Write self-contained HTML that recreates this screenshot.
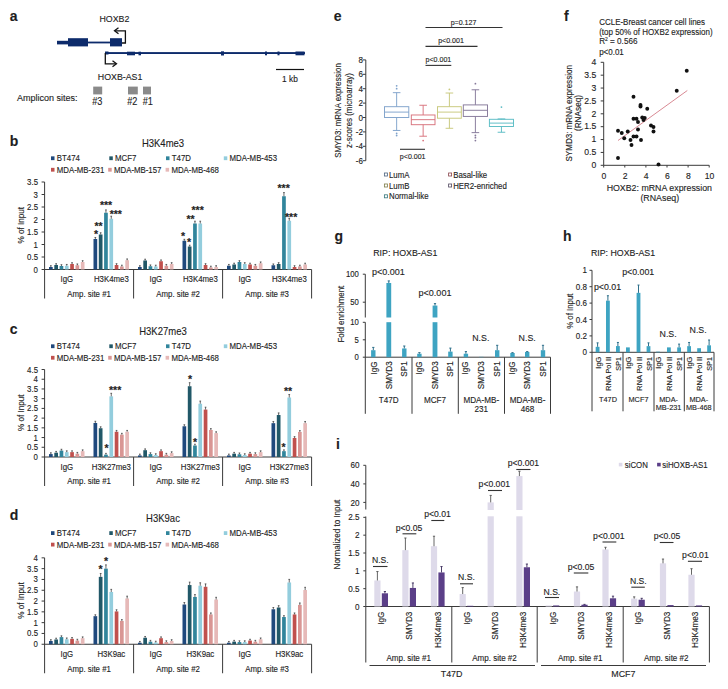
<!DOCTYPE html>
<html><head><meta charset="utf-8"><style>
html,body{margin:0;padding:0;background:#fff;}
svg{display:block;font-family:"Liberation Sans",sans-serif;}
text{stroke:#1e1e1e;stroke-width:0.12px;}
</style></head><body>
<svg width="728" height="689" viewBox="0 0 728 689">
<rect width="728" height="689" fill="#fff"/>
<text x="9.8" y="21" font-size="14" text-anchor="start" font-weight="bold" fill="#1e1e1e" transform="matrix(1 0 0 1.0 0 0)">a</text>
<rect x="57" y="40.8" width="11" height="3.6" fill="#0d2b6b"/>
<rect x="68" y="38.2" width="20" height="8.2" fill="#0d2b6b"/>
<rect x="88" y="41.6" width="22" height="1.8" fill="#0d2b6b"/>
<rect x="110" y="38.2" width="12" height="8.2" fill="#0d2b6b"/>
<polyline points="122,43 125.4,43 125.4,30.8 115,30.8" stroke="#111" stroke-width="1.3" fill="none"/>
<polyline points="118.5,27.8 114.5,30.8 118.5,33.8" stroke="#111" stroke-width="1.3" fill="none"/>
<text x="99.5" y="22.1" font-size="8.82" text-anchor="start" fill="#1e1e1e" transform="matrix(1 0 0 1.1 0 -1.9)">HOXB2</text>
<rect x="105" y="52.1" width="200" height="1.9" fill="#0d2b6b"/>
<rect x="105" y="51.5" width="3.5" height="3" fill="#0d2b6b"/>
<rect x="127" y="51.7" width="8" height="3.6" fill="#0d2b6b"/>
<rect x="138.5" y="51.7" width="2.5" height="3.6" fill="#0d2b6b"/>
<rect x="221" y="51.3" width="3" height="4.2" fill="#0d2b6b"/>
<rect x="265" y="51.5" width="2" height="3.8" fill="#0d2b6b"/>
<rect x="277.5" y="51.5" width="2" height="3.8" fill="#0d2b6b"/>
<rect x="295.5" y="51.5" width="9" height="3.8" fill="#0d2b6b"/>
<polyline points="105.3,53 105.3,63.8 116,63.8" stroke="#111" stroke-width="1.3" fill="none"/>
<polyline points="112.5,60.8 116.5,63.8 112.5,66.8" stroke="#111" stroke-width="1.3" fill="none"/>
<text x="97.8" y="79.7" font-size="8.82" text-anchor="start" fill="#1e1e1e" transform="matrix(1 0 0 1.1 0 -7.66)">HOXB-AS1</text>
<line x1="276" y1="69.5" x2="304" y2="69.5" stroke="#111" stroke-width="1.2"/>
<text x="290" y="81.92" font-size="8.33" text-anchor="middle" fill="#1e1e1e" transform="matrix(1 0 0 1.1 0 -7.9)">1 kb</text>
<text x="16.9" y="100.76" font-size="9.02" text-anchor="start" fill="#1e1e1e" transform="matrix(1 0 0 1.1 0 -9.76)">Amplicon sites:</text>
<rect x="93.2" y="86.6" width="9" height="7.8" fill="#8a8a8a"/>
<rect x="128" y="86.6" width="9.8" height="7.8" fill="#8a8a8a"/>
<rect x="143" y="86.6" width="8" height="7.8" fill="#8a8a8a"/>
<text x="97.2" y="105.1" font-size="9.11" text-anchor="middle" fill="#1e1e1e" transform="matrix(1 0 0 1.1 0 -10.19)">#3</text>
<text x="132.3" y="105.1" font-size="9.11" text-anchor="middle" fill="#1e1e1e" transform="matrix(1 0 0 1.1 0 -10.19)">#2</text>
<text x="147.8" y="105.1" font-size="9.11" text-anchor="middle" fill="#1e1e1e" transform="matrix(1 0 0 1.1 0 -10.19)">#1</text>
<text x="9.8" y="145.55" font-size="14" text-anchor="start" font-weight="bold" fill="#1e1e1e" transform="matrix(1 0 0 1.0 0 0)">b</text>
<text x="163" y="146.59" font-size="9.51" text-anchor="middle" fill="#1e1e1e" transform="matrix(1 0 0 1.1 0 -14.33)">H3K4me3</text>
<rect x="51" y="156.35" width="3.5" height="3.8" fill="#1f497d"/>
<text x="56.8" y="161" font-size="7.84" text-anchor="start" fill="#1e1e1e" transform="matrix(1 0 0 1.1 0 -15.83)">BT474</text>
<rect x="109.3" y="156.35" width="3.5" height="3.8" fill="#215868"/>
<text x="115.1" y="161" font-size="7.84" text-anchor="start" fill="#1e1e1e" transform="matrix(1 0 0 1.1 0 -15.83)">MCF7</text>
<rect x="166" y="156.35" width="3.5" height="3.8" fill="#31859c"/>
<text x="171.8" y="161" font-size="7.84" text-anchor="start" fill="#1e1e1e" transform="matrix(1 0 0 1.1 0 -15.83)">T47D</text>
<rect x="223.8" y="156.35" width="3.5" height="3.8" fill="#93cddd"/>
<text x="229.6" y="161" font-size="7.84" text-anchor="start" fill="#1e1e1e" transform="matrix(1 0 0 1.1 0 -15.83)">MDA-MB-453</text>
<rect x="51" y="167.85" width="3.5" height="3.8" fill="#c0504d"/>
<text x="56.8" y="172.5" font-size="7.84" text-anchor="start" fill="#1e1e1e" transform="matrix(1 0 0 1.1 0 -16.98)">MDA-MB-231</text>
<rect x="108.2" y="167.85" width="3.5" height="3.8" fill="#d99694"/>
<text x="114" y="172.5" font-size="7.84" text-anchor="start" fill="#1e1e1e" transform="matrix(1 0 0 1.1 0 -16.98)">MDA-MB-157</text>
<rect x="165.6" y="167.85" width="3.5" height="3.8" fill="#e6b9b8"/>
<text x="171.4" y="172.5" font-size="7.84" text-anchor="start" fill="#1e1e1e" transform="matrix(1 0 0 1.1 0 -16.98)">MDA-MB-468</text>
<line x1="44.6" y1="182" x2="44.6" y2="298.5" stroke="#3a3a3a" stroke-width="1"/>
<line x1="41.6" y1="269.5" x2="44.6" y2="269.5" stroke="#3a3a3a" stroke-width="1"/>
<text x="38" y="272.25" font-size="7.84" text-anchor="end" fill="#1e1e1e" transform="matrix(1 0 0 1.1 0 -26.95)">0</text>
<line x1="41.6" y1="257" x2="44.6" y2="257" stroke="#3a3a3a" stroke-width="1"/>
<text x="38" y="259.75" font-size="7.84" text-anchor="end" fill="#1e1e1e" transform="matrix(1 0 0 1.1 0 -25.7)">0.5</text>
<line x1="41.6" y1="244.5" x2="44.6" y2="244.5" stroke="#3a3a3a" stroke-width="1"/>
<text x="38" y="247.25" font-size="7.84" text-anchor="end" fill="#1e1e1e" transform="matrix(1 0 0 1.1 0 -24.45)">1</text>
<line x1="41.6" y1="232" x2="44.6" y2="232" stroke="#3a3a3a" stroke-width="1"/>
<text x="38" y="234.75" font-size="7.84" text-anchor="end" fill="#1e1e1e" transform="matrix(1 0 0 1.1 0 -23.2)">1.5</text>
<line x1="41.6" y1="219.5" x2="44.6" y2="219.5" stroke="#3a3a3a" stroke-width="1"/>
<text x="38" y="222.25" font-size="7.84" text-anchor="end" fill="#1e1e1e" transform="matrix(1 0 0 1.1 0 -21.95)">2</text>
<line x1="41.6" y1="207" x2="44.6" y2="207" stroke="#3a3a3a" stroke-width="1"/>
<text x="38" y="209.75" font-size="7.84" text-anchor="end" fill="#1e1e1e" transform="matrix(1 0 0 1.1 0 -20.7)">2.5</text>
<line x1="41.6" y1="194.5" x2="44.6" y2="194.5" stroke="#3a3a3a" stroke-width="1"/>
<text x="38" y="197.25" font-size="7.84" text-anchor="end" fill="#1e1e1e" transform="matrix(1 0 0 1.1 0 -19.45)">3</text>
<line x1="41.6" y1="182" x2="44.6" y2="182" stroke="#3a3a3a" stroke-width="1"/>
<text x="38" y="184.75" font-size="7.84" text-anchor="end" fill="#1e1e1e" transform="matrix(1 0 0 1.1 0 -18.2)">3.5</text>
<text x="23.86" y="225.25" font-size="8.13" text-anchor="middle" fill="#1e1e1e" transform="matrix(1.1 0 0 1 -2.1 0) rotate(-90 23.86 225.25)">% of Input</text>
<line x1="44.6" y1="269.5" x2="311.6" y2="269.5" stroke="#3a3a3a" stroke-width="1"/>
<line x1="133.6" y1="269.5" x2="133.6" y2="298.5" stroke="#3a3a3a" stroke-width="1"/>
<line x1="222.6" y1="269.5" x2="222.6" y2="298.5" stroke="#3a3a3a" stroke-width="1"/>
<line x1="311.6" y1="269.5" x2="311.6" y2="298.5" stroke="#3a3a3a" stroke-width="1"/>
<text x="89.1" y="296.55" font-size="7.84" text-anchor="middle" fill="#1e1e1e" transform="matrix(1 0 0 1.1 0 -29.38)">Amp. site #1</text>
<text x="66.85" y="281.85" font-size="7.84" text-anchor="middle" fill="#1e1e1e" transform="matrix(1 0 0 1.1 0 -27.91)">IgG</text>
<rect x="49" y="267" width="3.7" height="2.5" fill="#1f497d"/>
<line x1="50.85" y1="267" x2="50.85" y2="265.7" stroke="#383838" stroke-width="0.75"/>
<line x1="50" y1="265.7" x2="51.7" y2="265.7" stroke="#383838" stroke-width="0.75"/>
<rect x="54.3" y="265" width="3.7" height="4.5" fill="#215868"/>
<line x1="56.15" y1="265" x2="56.15" y2="263.7" stroke="#383838" stroke-width="0.75"/>
<line x1="55.3" y1="263.7" x2="57" y2="263.7" stroke="#383838" stroke-width="0.75"/>
<rect x="59.6" y="266" width="3.7" height="3.5" fill="#31859c"/>
<line x1="61.45" y1="266" x2="61.45" y2="264.7" stroke="#383838" stroke-width="0.75"/>
<line x1="60.6" y1="264.7" x2="62.3" y2="264.7" stroke="#383838" stroke-width="0.75"/>
<rect x="64.9" y="265.75" width="3.7" height="3.75" fill="#93cddd"/>
<line x1="66.75" y1="265.75" x2="66.75" y2="264.45" stroke="#383838" stroke-width="0.75"/>
<line x1="65.9" y1="264.45" x2="67.6" y2="264.45" stroke="#383838" stroke-width="0.75"/>
<rect x="70.2" y="264" width="3.7" height="5.5" fill="#c0504d"/>
<line x1="72.05" y1="264" x2="72.05" y2="262.7" stroke="#383838" stroke-width="0.75"/>
<line x1="71.2" y1="262.7" x2="72.9" y2="262.7" stroke="#383838" stroke-width="0.75"/>
<rect x="75.5" y="265.25" width="3.7" height="4.25" fill="#d99694"/>
<line x1="77.35" y1="265.25" x2="77.35" y2="263.95" stroke="#383838" stroke-width="0.75"/>
<line x1="76.5" y1="263.95" x2="78.2" y2="263.95" stroke="#383838" stroke-width="0.75"/>
<rect x="80.8" y="262" width="3.7" height="7.5" fill="#e6b9b8"/>
<line x1="82.65" y1="262" x2="82.65" y2="260.7" stroke="#383838" stroke-width="0.75"/>
<line x1="81.8" y1="260.7" x2="83.5" y2="260.7" stroke="#383838" stroke-width="0.75"/>
<text x="111.35" y="281.85" font-size="7.84" text-anchor="middle" fill="#1e1e1e" transform="matrix(1 0 0 1.1 0 -27.91)">H3K4me3</text>
<rect x="93.5" y="239" width="3.7" height="30.5" fill="#1f497d"/>
<line x1="95.35" y1="239" x2="95.35" y2="237.47" stroke="#383838" stroke-width="0.75"/>
<line x1="94.5" y1="237.47" x2="96.2" y2="237.47" stroke="#383838" stroke-width="0.75"/>
<rect x="98.8" y="234.5" width="3.7" height="35" fill="#215868"/>
<line x1="100.65" y1="234.5" x2="100.65" y2="232.75" stroke="#383838" stroke-width="0.75"/>
<line x1="99.8" y1="232.75" x2="101.5" y2="232.75" stroke="#383838" stroke-width="0.75"/>
<rect x="104.1" y="212.75" width="3.7" height="56.75" fill="#31859c"/>
<line x1="105.95" y1="212.75" x2="105.95" y2="209.91" stroke="#383838" stroke-width="0.75"/>
<line x1="105.1" y1="209.91" x2="106.8" y2="209.91" stroke="#383838" stroke-width="0.75"/>
<rect x="109.4" y="218.75" width="3.7" height="50.75" fill="#93cddd"/>
<line x1="111.25" y1="218.75" x2="111.25" y2="216.21" stroke="#383838" stroke-width="0.75"/>
<line x1="110.4" y1="216.21" x2="112.1" y2="216.21" stroke="#383838" stroke-width="0.75"/>
<rect x="114.7" y="265" width="3.7" height="4.5" fill="#c0504d"/>
<line x1="116.55" y1="265" x2="116.55" y2="263.7" stroke="#383838" stroke-width="0.75"/>
<line x1="115.7" y1="263.7" x2="117.4" y2="263.7" stroke="#383838" stroke-width="0.75"/>
<rect x="120" y="266.5" width="3.7" height="3" fill="#d99694"/>
<line x1="121.85" y1="266.5" x2="121.85" y2="265.2" stroke="#383838" stroke-width="0.75"/>
<line x1="121" y1="265.2" x2="122.7" y2="265.2" stroke="#383838" stroke-width="0.75"/>
<rect x="125.3" y="260.25" width="3.7" height="9.25" fill="#e6b9b8"/>
<line x1="127.15" y1="260.25" x2="127.15" y2="258.95" stroke="#383838" stroke-width="0.75"/>
<line x1="126.3" y1="258.95" x2="128" y2="258.95" stroke="#383838" stroke-width="0.75"/>
<text x="178.1" y="296.55" font-size="7.84" text-anchor="middle" fill="#1e1e1e" transform="matrix(1 0 0 1.1 0 -29.38)">Amp. site #2</text>
<text x="155.85" y="281.85" font-size="7.84" text-anchor="middle" fill="#1e1e1e" transform="matrix(1 0 0 1.1 0 -27.91)">IgG</text>
<rect x="138" y="267" width="3.7" height="2.5" fill="#1f497d"/>
<line x1="139.85" y1="267" x2="139.85" y2="265.7" stroke="#383838" stroke-width="0.75"/>
<line x1="139" y1="265.7" x2="140.7" y2="265.7" stroke="#383838" stroke-width="0.75"/>
<rect x="143.3" y="260.5" width="3.7" height="9" fill="#215868"/>
<line x1="145.15" y1="260.5" x2="145.15" y2="259.2" stroke="#383838" stroke-width="0.75"/>
<line x1="144.3" y1="259.2" x2="146" y2="259.2" stroke="#383838" stroke-width="0.75"/>
<rect x="148.6" y="266.25" width="3.7" height="3.25" fill="#31859c"/>
<line x1="150.45" y1="266.25" x2="150.45" y2="264.95" stroke="#383838" stroke-width="0.75"/>
<line x1="149.6" y1="264.95" x2="151.3" y2="264.95" stroke="#383838" stroke-width="0.75"/>
<rect x="153.9" y="266.5" width="3.7" height="3" fill="#93cddd"/>
<line x1="155.75" y1="266.5" x2="155.75" y2="265.2" stroke="#383838" stroke-width="0.75"/>
<line x1="154.9" y1="265.2" x2="156.6" y2="265.2" stroke="#383838" stroke-width="0.75"/>
<rect x="159.2" y="261.25" width="3.7" height="8.25" fill="#c0504d"/>
<line x1="161.05" y1="261.25" x2="161.05" y2="259.95" stroke="#383838" stroke-width="0.75"/>
<line x1="160.2" y1="259.95" x2="161.9" y2="259.95" stroke="#383838" stroke-width="0.75"/>
<rect x="164.5" y="265.75" width="3.7" height="3.75" fill="#d99694"/>
<line x1="166.35" y1="265.75" x2="166.35" y2="264.45" stroke="#383838" stroke-width="0.75"/>
<line x1="165.5" y1="264.45" x2="167.2" y2="264.45" stroke="#383838" stroke-width="0.75"/>
<rect x="169.8" y="264" width="3.7" height="5.5" fill="#e6b9b8"/>
<line x1="171.65" y1="264" x2="171.65" y2="262.7" stroke="#383838" stroke-width="0.75"/>
<line x1="170.8" y1="262.7" x2="172.5" y2="262.7" stroke="#383838" stroke-width="0.75"/>
<text x="200.35" y="281.85" font-size="7.84" text-anchor="middle" fill="#1e1e1e" transform="matrix(1 0 0 1.1 0 -27.91)">H3K4me3</text>
<rect x="182.5" y="240.75" width="3.7" height="28.75" fill="#1f497d"/>
<line x1="184.35" y1="240.75" x2="184.35" y2="239.31" stroke="#383838" stroke-width="0.75"/>
<line x1="183.5" y1="239.31" x2="185.2" y2="239.31" stroke="#383838" stroke-width="0.75"/>
<rect x="187.8" y="246.5" width="3.7" height="23" fill="#215868"/>
<line x1="189.65" y1="246.5" x2="189.65" y2="245.2" stroke="#383838" stroke-width="0.75"/>
<line x1="188.8" y1="245.2" x2="190.5" y2="245.2" stroke="#383838" stroke-width="0.75"/>
<rect x="193.1" y="223.5" width="3.7" height="46" fill="#31859c"/>
<line x1="194.95" y1="223.5" x2="194.95" y2="221.2" stroke="#383838" stroke-width="0.75"/>
<line x1="194.1" y1="221.2" x2="195.8" y2="221.2" stroke="#383838" stroke-width="0.75"/>
<rect x="198.4" y="223.5" width="3.7" height="46" fill="#93cddd"/>
<line x1="200.25" y1="223.5" x2="200.25" y2="221.2" stroke="#383838" stroke-width="0.75"/>
<line x1="199.4" y1="221.2" x2="201.1" y2="221.2" stroke="#383838" stroke-width="0.75"/>
<rect x="203.7" y="265" width="3.7" height="4.5" fill="#c0504d"/>
<line x1="205.55" y1="265" x2="205.55" y2="263.7" stroke="#383838" stroke-width="0.75"/>
<line x1="204.7" y1="263.7" x2="206.4" y2="263.7" stroke="#383838" stroke-width="0.75"/>
<rect x="209" y="267.5" width="3.7" height="2" fill="#d99694"/>
<line x1="210.85" y1="267.5" x2="210.85" y2="266.2" stroke="#383838" stroke-width="0.75"/>
<line x1="210" y1="266.2" x2="211.7" y2="266.2" stroke="#383838" stroke-width="0.75"/>
<rect x="214.3" y="267" width="3.7" height="2.5" fill="#e6b9b8"/>
<line x1="216.15" y1="267" x2="216.15" y2="265.7" stroke="#383838" stroke-width="0.75"/>
<line x1="215.3" y1="265.7" x2="217" y2="265.7" stroke="#383838" stroke-width="0.75"/>
<text x="267.1" y="296.55" font-size="7.84" text-anchor="middle" fill="#1e1e1e" transform="matrix(1 0 0 1.1 0 -29.38)">Amp. site #3</text>
<text x="244.85" y="281.85" font-size="7.84" text-anchor="middle" fill="#1e1e1e" transform="matrix(1 0 0 1.1 0 -27.91)">IgG</text>
<rect x="227" y="265.75" width="3.7" height="3.75" fill="#1f497d"/>
<line x1="228.85" y1="265.75" x2="228.85" y2="264.45" stroke="#383838" stroke-width="0.75"/>
<line x1="228" y1="264.45" x2="229.7" y2="264.45" stroke="#383838" stroke-width="0.75"/>
<rect x="232.3" y="264.5" width="3.7" height="5" fill="#215868"/>
<line x1="234.15" y1="264.5" x2="234.15" y2="263.2" stroke="#383838" stroke-width="0.75"/>
<line x1="233.3" y1="263.2" x2="235" y2="263.2" stroke="#383838" stroke-width="0.75"/>
<rect x="237.6" y="262" width="3.7" height="7.5" fill="#31859c"/>
<line x1="239.45" y1="262" x2="239.45" y2="260.7" stroke="#383838" stroke-width="0.75"/>
<line x1="238.6" y1="260.7" x2="240.3" y2="260.7" stroke="#383838" stroke-width="0.75"/>
<rect x="242.9" y="264" width="3.7" height="5.5" fill="#93cddd"/>
<line x1="244.75" y1="264" x2="244.75" y2="262.7" stroke="#383838" stroke-width="0.75"/>
<line x1="243.9" y1="262.7" x2="245.6" y2="262.7" stroke="#383838" stroke-width="0.75"/>
<rect x="248.2" y="264.5" width="3.7" height="5" fill="#c0504d"/>
<line x1="250.05" y1="264.5" x2="250.05" y2="263.2" stroke="#383838" stroke-width="0.75"/>
<line x1="249.2" y1="263.2" x2="250.9" y2="263.2" stroke="#383838" stroke-width="0.75"/>
<rect x="253.5" y="265.75" width="3.7" height="3.75" fill="#d99694"/>
<line x1="255.35" y1="265.75" x2="255.35" y2="264.45" stroke="#383838" stroke-width="0.75"/>
<line x1="254.5" y1="264.45" x2="256.2" y2="264.45" stroke="#383838" stroke-width="0.75"/>
<rect x="258.8" y="263.25" width="3.7" height="6.25" fill="#e6b9b8"/>
<line x1="260.65" y1="263.25" x2="260.65" y2="261.95" stroke="#383838" stroke-width="0.75"/>
<line x1="259.8" y1="261.95" x2="261.5" y2="261.95" stroke="#383838" stroke-width="0.75"/>
<text x="289.35" y="281.85" font-size="7.84" text-anchor="middle" fill="#1e1e1e" transform="matrix(1 0 0 1.1 0 -27.91)">H3K4me3</text>
<rect x="271.5" y="265.25" width="3.7" height="4.25" fill="#1f497d"/>
<line x1="273.35" y1="265.25" x2="273.35" y2="263.95" stroke="#383838" stroke-width="0.75"/>
<line x1="272.5" y1="263.95" x2="274.2" y2="263.95" stroke="#383838" stroke-width="0.75"/>
<rect x="276.8" y="264" width="3.7" height="5.5" fill="#215868"/>
<line x1="278.65" y1="264" x2="278.65" y2="262.7" stroke="#383838" stroke-width="0.75"/>
<line x1="277.8" y1="262.7" x2="279.5" y2="262.7" stroke="#383838" stroke-width="0.75"/>
<rect x="282.1" y="196.25" width="3.7" height="73.25" fill="#31859c"/>
<line x1="283.95" y1="196.25" x2="283.95" y2="192.59" stroke="#383838" stroke-width="0.75"/>
<line x1="283.1" y1="192.59" x2="284.8" y2="192.59" stroke="#383838" stroke-width="0.75"/>
<rect x="287.4" y="220.75" width="3.7" height="48.75" fill="#93cddd"/>
<line x1="289.25" y1="220.75" x2="289.25" y2="218.31" stroke="#383838" stroke-width="0.75"/>
<line x1="288.4" y1="218.31" x2="290.1" y2="218.31" stroke="#383838" stroke-width="0.75"/>
<rect x="292.7" y="267" width="3.7" height="2.5" fill="#c0504d"/>
<line x1="294.55" y1="267" x2="294.55" y2="265.7" stroke="#383838" stroke-width="0.75"/>
<line x1="293.7" y1="265.7" x2="295.4" y2="265.7" stroke="#383838" stroke-width="0.75"/>
<rect x="298" y="266.5" width="3.7" height="3" fill="#d99694"/>
<line x1="299.85" y1="266.5" x2="299.85" y2="265.2" stroke="#383838" stroke-width="0.75"/>
<line x1="299" y1="265.2" x2="300.7" y2="265.2" stroke="#383838" stroke-width="0.75"/>
<rect x="303.3" y="264.5" width="3.7" height="5" fill="#e6b9b8"/>
<line x1="305.15" y1="264.5" x2="305.15" y2="263.2" stroke="#383838" stroke-width="0.75"/>
<line x1="304.3" y1="263.2" x2="306" y2="263.2" stroke="#383838" stroke-width="0.75"/>
<text x="94" y="237.69" font-size="10.5" text-anchor="start" font-weight="bold" fill="#1e1e1e" transform="matrix(1 0 0 1.0 0 0)">*</text>
<text x="94.4" y="229.69" font-size="10.5" text-anchor="start" font-weight="bold" fill="#1e1e1e" transform="matrix(1 0 0 1.0 0 0)">**</text>
<text x="99.9" y="208.69" font-size="10.5" text-anchor="start" font-weight="bold" fill="#1e1e1e" transform="matrix(1 0 0 1.0 0 0)">***</text>
<text x="109.7" y="217.69" font-size="10.5" text-anchor="start" font-weight="bold" fill="#1e1e1e" transform="matrix(1 0 0 1.0 0 0)">***</text>
<text x="181" y="240.19" font-size="10.5" text-anchor="start" font-weight="bold" fill="#1e1e1e" transform="matrix(1 0 0 1.0 0 0)">*</text>
<text x="187" y="246.39" font-size="10.5" text-anchor="start" font-weight="bold" fill="#1e1e1e" transform="matrix(1 0 0 1.0 0 0)">*</text>
<text x="186.5" y="223.39" font-size="10.5" text-anchor="start" font-weight="bold" fill="#1e1e1e" transform="matrix(1 0 0 1.0 0 0)">**</text>
<text x="191.5" y="213.89" font-size="10.5" text-anchor="start" font-weight="bold" fill="#1e1e1e" transform="matrix(1 0 0 1.0 0 0)">***</text>
<text x="277.5" y="192.39" font-size="10.5" text-anchor="start" font-weight="bold" fill="#1e1e1e" transform="matrix(1 0 0 1.0 0 0)">***</text>
<text x="285" y="221.39" font-size="10.5" text-anchor="start" font-weight="bold" fill="#1e1e1e" transform="matrix(1 0 0 1.0 0 0)">***</text>
<text x="9.8" y="333.55" font-size="14" text-anchor="start" font-weight="bold" fill="#1e1e1e" transform="matrix(1 0 0 1.0 0 0)">c</text>
<text x="163" y="334.59" font-size="9.51" text-anchor="middle" fill="#1e1e1e" transform="matrix(1 0 0 1.1 0 -33.13)">H3K27me3</text>
<rect x="51" y="344.35" width="3.5" height="3.8" fill="#1f497d"/>
<text x="56.8" y="349" font-size="7.84" text-anchor="start" fill="#1e1e1e" transform="matrix(1 0 0 1.1 0 -34.63)">BT474</text>
<rect x="109.3" y="344.35" width="3.5" height="3.8" fill="#215868"/>
<text x="115.1" y="349" font-size="7.84" text-anchor="start" fill="#1e1e1e" transform="matrix(1 0 0 1.1 0 -34.63)">MCF7</text>
<rect x="166" y="344.35" width="3.5" height="3.8" fill="#31859c"/>
<text x="171.8" y="349" font-size="7.84" text-anchor="start" fill="#1e1e1e" transform="matrix(1 0 0 1.1 0 -34.63)">T47D</text>
<rect x="223.8" y="344.35" width="3.5" height="3.8" fill="#93cddd"/>
<text x="229.6" y="349" font-size="7.84" text-anchor="start" fill="#1e1e1e" transform="matrix(1 0 0 1.1 0 -34.63)">MDA-MB-453</text>
<rect x="51" y="355.85" width="3.5" height="3.8" fill="#c0504d"/>
<text x="56.8" y="360.5" font-size="7.84" text-anchor="start" fill="#1e1e1e" transform="matrix(1 0 0 1.1 0 -35.78)">MDA-MB-231</text>
<rect x="108.2" y="355.85" width="3.5" height="3.8" fill="#d99694"/>
<text x="114" y="360.5" font-size="7.84" text-anchor="start" fill="#1e1e1e" transform="matrix(1 0 0 1.1 0 -35.78)">MDA-MB-157</text>
<rect x="165.6" y="355.85" width="3.5" height="3.8" fill="#e6b9b8"/>
<text x="171.4" y="360.5" font-size="7.84" text-anchor="start" fill="#1e1e1e" transform="matrix(1 0 0 1.1 0 -35.78)">MDA-MB-468</text>
<line x1="44.6" y1="369.52" x2="44.6" y2="486" stroke="#3a3a3a" stroke-width="1"/>
<line x1="41.6" y1="457" x2="44.6" y2="457" stroke="#3a3a3a" stroke-width="1"/>
<text x="38" y="459.75" font-size="7.84" text-anchor="end" fill="#1e1e1e" transform="matrix(1 0 0 1.1 0 -45.7)">0</text>
<line x1="41.6" y1="447.28" x2="44.6" y2="447.28" stroke="#3a3a3a" stroke-width="1"/>
<text x="38" y="450.03" font-size="7.84" text-anchor="end" fill="#1e1e1e" transform="matrix(1 0 0 1.1 0 -44.73)">0.5</text>
<line x1="41.6" y1="437.56" x2="44.6" y2="437.56" stroke="#3a3a3a" stroke-width="1"/>
<text x="38" y="440.31" font-size="7.84" text-anchor="end" fill="#1e1e1e" transform="matrix(1 0 0 1.1 0 -43.76)">1</text>
<line x1="41.6" y1="427.84" x2="44.6" y2="427.84" stroke="#3a3a3a" stroke-width="1"/>
<text x="38" y="430.59" font-size="7.84" text-anchor="end" fill="#1e1e1e" transform="matrix(1 0 0 1.1 0 -42.78)">1.5</text>
<line x1="41.6" y1="418.12" x2="44.6" y2="418.12" stroke="#3a3a3a" stroke-width="1"/>
<text x="38" y="420.87" font-size="7.84" text-anchor="end" fill="#1e1e1e" transform="matrix(1 0 0 1.1 0 -41.81)">2</text>
<line x1="41.6" y1="408.4" x2="44.6" y2="408.4" stroke="#3a3a3a" stroke-width="1"/>
<text x="38" y="411.15" font-size="7.84" text-anchor="end" fill="#1e1e1e" transform="matrix(1 0 0 1.1 0 -40.84)">2.5</text>
<line x1="41.6" y1="398.68" x2="44.6" y2="398.68" stroke="#3a3a3a" stroke-width="1"/>
<text x="38" y="401.43" font-size="7.84" text-anchor="end" fill="#1e1e1e" transform="matrix(1 0 0 1.1 0 -39.87)">3</text>
<line x1="41.6" y1="388.96" x2="44.6" y2="388.96" stroke="#3a3a3a" stroke-width="1"/>
<text x="38" y="391.71" font-size="7.84" text-anchor="end" fill="#1e1e1e" transform="matrix(1 0 0 1.1 0 -38.9)">3.5</text>
<line x1="41.6" y1="379.24" x2="44.6" y2="379.24" stroke="#3a3a3a" stroke-width="1"/>
<text x="38" y="381.99" font-size="7.84" text-anchor="end" fill="#1e1e1e" transform="matrix(1 0 0 1.1 0 -37.92)">4</text>
<line x1="41.6" y1="369.52" x2="44.6" y2="369.52" stroke="#3a3a3a" stroke-width="1"/>
<text x="38" y="372.27" font-size="7.84" text-anchor="end" fill="#1e1e1e" transform="matrix(1 0 0 1.1 0 -36.95)">4.5</text>
<text x="23.86" y="412.76" font-size="8.13" text-anchor="middle" fill="#1e1e1e" transform="matrix(1.1 0 0 1 -2.1 0) rotate(-90 23.86 412.76)">% of Input</text>
<line x1="44.6" y1="457" x2="311.6" y2="457" stroke="#3a3a3a" stroke-width="1"/>
<line x1="133.6" y1="457" x2="133.6" y2="486" stroke="#3a3a3a" stroke-width="1"/>
<line x1="222.6" y1="457" x2="222.6" y2="486" stroke="#3a3a3a" stroke-width="1"/>
<line x1="311.6" y1="457" x2="311.6" y2="486" stroke="#3a3a3a" stroke-width="1"/>
<text x="89.1" y="484.05" font-size="7.84" text-anchor="middle" fill="#1e1e1e" transform="matrix(1 0 0 1.1 0 -48.13)">Amp. site #1</text>
<text x="66.85" y="469.35" font-size="7.84" text-anchor="middle" fill="#1e1e1e" transform="matrix(1 0 0 1.1 0 -46.66)">IgG</text>
<rect x="49" y="454.08" width="3.7" height="2.92" fill="#1f497d"/>
<line x1="50.85" y1="454.08" x2="50.85" y2="452.78" stroke="#383838" stroke-width="0.75"/>
<line x1="50" y1="452.78" x2="51.7" y2="452.78" stroke="#383838" stroke-width="0.75"/>
<rect x="54.3" y="452.72" width="3.7" height="4.28" fill="#215868"/>
<line x1="56.15" y1="452.72" x2="56.15" y2="451.42" stroke="#383838" stroke-width="0.75"/>
<line x1="55.3" y1="451.42" x2="57" y2="451.42" stroke="#383838" stroke-width="0.75"/>
<rect x="59.6" y="450.58" width="3.7" height="6.42" fill="#31859c"/>
<line x1="61.45" y1="450.58" x2="61.45" y2="449.28" stroke="#383838" stroke-width="0.75"/>
<line x1="60.6" y1="449.28" x2="62.3" y2="449.28" stroke="#383838" stroke-width="0.75"/>
<rect x="64.9" y="452.14" width="3.7" height="4.86" fill="#93cddd"/>
<line x1="66.75" y1="452.14" x2="66.75" y2="450.84" stroke="#383838" stroke-width="0.75"/>
<line x1="65.9" y1="450.84" x2="67.6" y2="450.84" stroke="#383838" stroke-width="0.75"/>
<rect x="70.2" y="452.14" width="3.7" height="4.86" fill="#c0504d"/>
<line x1="72.05" y1="452.14" x2="72.05" y2="450.84" stroke="#383838" stroke-width="0.75"/>
<line x1="71.2" y1="450.84" x2="72.9" y2="450.84" stroke="#383838" stroke-width="0.75"/>
<rect x="75.5" y="453.7" width="3.7" height="3.3" fill="#d99694"/>
<line x1="77.35" y1="453.7" x2="77.35" y2="452.4" stroke="#383838" stroke-width="0.75"/>
<line x1="76.5" y1="452.4" x2="78.2" y2="452.4" stroke="#383838" stroke-width="0.75"/>
<rect x="80.8" y="451.17" width="3.7" height="5.83" fill="#e6b9b8"/>
<line x1="82.65" y1="451.17" x2="82.65" y2="449.87" stroke="#383838" stroke-width="0.75"/>
<line x1="81.8" y1="449.87" x2="83.5" y2="449.87" stroke="#383838" stroke-width="0.75"/>
<text x="111.35" y="469.35" font-size="7.84" text-anchor="middle" fill="#1e1e1e" transform="matrix(1 0 0 1.1 0 -46.66)">H3K27me3</text>
<rect x="93.5" y="422.98" width="3.7" height="34.02" fill="#1f497d"/>
<line x1="95.35" y1="422.98" x2="95.35" y2="421.28" stroke="#383838" stroke-width="0.75"/>
<line x1="94.5" y1="421.28" x2="96.2" y2="421.28" stroke="#383838" stroke-width="0.75"/>
<rect x="98.8" y="428.23" width="3.7" height="28.77" fill="#215868"/>
<line x1="100.65" y1="428.23" x2="100.65" y2="426.79" stroke="#383838" stroke-width="0.75"/>
<line x1="99.8" y1="426.79" x2="101.5" y2="426.79" stroke="#383838" stroke-width="0.75"/>
<rect x="104.1" y="454.67" width="3.7" height="2.33" fill="#31859c"/>
<line x1="105.95" y1="454.67" x2="105.95" y2="453.37" stroke="#383838" stroke-width="0.75"/>
<line x1="105.1" y1="453.37" x2="106.8" y2="453.37" stroke="#383838" stroke-width="0.75"/>
<rect x="109.4" y="396.35" width="3.7" height="60.65" fill="#93cddd"/>
<line x1="111.25" y1="396.35" x2="111.25" y2="393.31" stroke="#383838" stroke-width="0.75"/>
<line x1="110.4" y1="393.31" x2="112.1" y2="393.31" stroke="#383838" stroke-width="0.75"/>
<rect x="114.7" y="431.73" width="3.7" height="25.27" fill="#c0504d"/>
<line x1="116.55" y1="431.73" x2="116.55" y2="430.43" stroke="#383838" stroke-width="0.75"/>
<line x1="115.7" y1="430.43" x2="117.4" y2="430.43" stroke="#383838" stroke-width="0.75"/>
<rect x="120" y="434.64" width="3.7" height="22.36" fill="#d99694"/>
<line x1="121.85" y1="434.64" x2="121.85" y2="433.34" stroke="#383838" stroke-width="0.75"/>
<line x1="121" y1="433.34" x2="122.7" y2="433.34" stroke="#383838" stroke-width="0.75"/>
<rect x="125.3" y="431.73" width="3.7" height="25.27" fill="#e6b9b8"/>
<line x1="127.15" y1="431.73" x2="127.15" y2="430.43" stroke="#383838" stroke-width="0.75"/>
<line x1="126.3" y1="430.43" x2="128" y2="430.43" stroke="#383838" stroke-width="0.75"/>
<text x="178.1" y="484.05" font-size="7.84" text-anchor="middle" fill="#1e1e1e" transform="matrix(1 0 0 1.1 0 -48.13)">Amp. site #2</text>
<text x="155.85" y="469.35" font-size="7.84" text-anchor="middle" fill="#1e1e1e" transform="matrix(1 0 0 1.1 0 -46.66)">IgG</text>
<rect x="138" y="455.44" width="3.7" height="1.56" fill="#1f497d"/>
<line x1="139.85" y1="455.44" x2="139.85" y2="454.14" stroke="#383838" stroke-width="0.75"/>
<line x1="139" y1="454.14" x2="140.7" y2="454.14" stroke="#383838" stroke-width="0.75"/>
<rect x="143.3" y="450.2" width="3.7" height="6.8" fill="#215868"/>
<line x1="145.15" y1="450.2" x2="145.15" y2="448.9" stroke="#383838" stroke-width="0.75"/>
<line x1="144.3" y1="448.9" x2="146" y2="448.9" stroke="#383838" stroke-width="0.75"/>
<rect x="148.6" y="454.08" width="3.7" height="2.92" fill="#31859c"/>
<line x1="150.45" y1="454.08" x2="150.45" y2="452.78" stroke="#383838" stroke-width="0.75"/>
<line x1="149.6" y1="452.78" x2="151.3" y2="452.78" stroke="#383838" stroke-width="0.75"/>
<rect x="153.9" y="455.06" width="3.7" height="1.94" fill="#93cddd"/>
<line x1="155.75" y1="455.06" x2="155.75" y2="453.76" stroke="#383838" stroke-width="0.75"/>
<line x1="154.9" y1="453.76" x2="156.6" y2="453.76" stroke="#383838" stroke-width="0.75"/>
<rect x="159.2" y="451.17" width="3.7" height="5.83" fill="#c0504d"/>
<line x1="161.05" y1="451.17" x2="161.05" y2="449.87" stroke="#383838" stroke-width="0.75"/>
<line x1="160.2" y1="449.87" x2="161.9" y2="449.87" stroke="#383838" stroke-width="0.75"/>
<rect x="164.5" y="454.67" width="3.7" height="2.33" fill="#d99694"/>
<line x1="166.35" y1="454.67" x2="166.35" y2="453.37" stroke="#383838" stroke-width="0.75"/>
<line x1="165.5" y1="453.37" x2="167.2" y2="453.37" stroke="#383838" stroke-width="0.75"/>
<rect x="169.8" y="453.11" width="3.7" height="3.89" fill="#e6b9b8"/>
<line x1="171.65" y1="453.11" x2="171.65" y2="451.81" stroke="#383838" stroke-width="0.75"/>
<line x1="170.8" y1="451.81" x2="172.5" y2="451.81" stroke="#383838" stroke-width="0.75"/>
<text x="200.35" y="469.35" font-size="7.84" text-anchor="middle" fill="#1e1e1e" transform="matrix(1 0 0 1.1 0 -46.66)">H3K27me3</text>
<rect x="182.5" y="426.28" width="3.7" height="30.72" fill="#1f497d"/>
<line x1="184.35" y1="426.28" x2="184.35" y2="424.75" stroke="#383838" stroke-width="0.75"/>
<line x1="183.5" y1="424.75" x2="185.2" y2="424.75" stroke="#383838" stroke-width="0.75"/>
<rect x="187.8" y="386.24" width="3.7" height="70.76" fill="#215868"/>
<line x1="189.65" y1="386.24" x2="189.65" y2="382.7" stroke="#383838" stroke-width="0.75"/>
<line x1="188.8" y1="382.7" x2="190.5" y2="382.7" stroke="#383838" stroke-width="0.75"/>
<rect x="193.1" y="445.53" width="3.7" height="11.47" fill="#31859c"/>
<line x1="194.95" y1="445.53" x2="194.95" y2="444.23" stroke="#383838" stroke-width="0.75"/>
<line x1="194.1" y1="444.23" x2="195.8" y2="444.23" stroke="#383838" stroke-width="0.75"/>
<rect x="198.4" y="403.73" width="3.7" height="53.27" fill="#93cddd"/>
<line x1="200.25" y1="403.73" x2="200.25" y2="401.07" stroke="#383838" stroke-width="0.75"/>
<line x1="199.4" y1="401.07" x2="201.1" y2="401.07" stroke="#383838" stroke-width="0.75"/>
<rect x="203.7" y="409.57" width="3.7" height="47.43" fill="#c0504d"/>
<line x1="205.55" y1="409.57" x2="205.55" y2="407.19" stroke="#383838" stroke-width="0.75"/>
<line x1="204.7" y1="407.19" x2="206.4" y2="407.19" stroke="#383838" stroke-width="0.75"/>
<rect x="209" y="429.98" width="3.7" height="27.02" fill="#d99694"/>
<line x1="210.85" y1="429.98" x2="210.85" y2="428.63" stroke="#383838" stroke-width="0.75"/>
<line x1="210" y1="428.63" x2="211.7" y2="428.63" stroke="#383838" stroke-width="0.75"/>
<rect x="214.3" y="433.09" width="3.7" height="23.91" fill="#e6b9b8"/>
<line x1="216.15" y1="433.09" x2="216.15" y2="431.79" stroke="#383838" stroke-width="0.75"/>
<line x1="215.3" y1="431.79" x2="217" y2="431.79" stroke="#383838" stroke-width="0.75"/>
<text x="267.1" y="484.05" font-size="7.84" text-anchor="middle" fill="#1e1e1e" transform="matrix(1 0 0 1.1 0 -48.13)">Amp. site #3</text>
<text x="244.85" y="469.35" font-size="7.84" text-anchor="middle" fill="#1e1e1e" transform="matrix(1 0 0 1.1 0 -46.66)">IgG</text>
<rect x="227" y="455.44" width="3.7" height="1.56" fill="#1f497d"/>
<line x1="228.85" y1="455.44" x2="228.85" y2="454.14" stroke="#383838" stroke-width="0.75"/>
<line x1="228" y1="454.14" x2="229.7" y2="454.14" stroke="#383838" stroke-width="0.75"/>
<rect x="232.3" y="453.7" width="3.7" height="3.3" fill="#215868"/>
<line x1="234.15" y1="453.7" x2="234.15" y2="452.4" stroke="#383838" stroke-width="0.75"/>
<line x1="233.3" y1="452.4" x2="235" y2="452.4" stroke="#383838" stroke-width="0.75"/>
<rect x="237.6" y="454.28" width="3.7" height="2.72" fill="#31859c"/>
<line x1="239.45" y1="454.28" x2="239.45" y2="452.98" stroke="#383838" stroke-width="0.75"/>
<line x1="238.6" y1="452.98" x2="240.3" y2="452.98" stroke="#383838" stroke-width="0.75"/>
<rect x="242.9" y="455.06" width="3.7" height="1.94" fill="#93cddd"/>
<line x1="244.75" y1="455.06" x2="244.75" y2="453.76" stroke="#383838" stroke-width="0.75"/>
<line x1="243.9" y1="453.76" x2="245.6" y2="453.76" stroke="#383838" stroke-width="0.75"/>
<rect x="248.2" y="453.7" width="3.7" height="3.3" fill="#c0504d"/>
<line x1="250.05" y1="453.7" x2="250.05" y2="452.4" stroke="#383838" stroke-width="0.75"/>
<line x1="249.2" y1="452.4" x2="250.9" y2="452.4" stroke="#383838" stroke-width="0.75"/>
<rect x="253.5" y="454.08" width="3.7" height="2.92" fill="#d99694"/>
<line x1="255.35" y1="454.08" x2="255.35" y2="452.78" stroke="#383838" stroke-width="0.75"/>
<line x1="254.5" y1="452.78" x2="256.2" y2="452.78" stroke="#383838" stroke-width="0.75"/>
<rect x="258.8" y="452.14" width="3.7" height="4.86" fill="#e6b9b8"/>
<line x1="260.65" y1="452.14" x2="260.65" y2="450.84" stroke="#383838" stroke-width="0.75"/>
<line x1="259.8" y1="450.84" x2="261.5" y2="450.84" stroke="#383838" stroke-width="0.75"/>
<text x="289.35" y="469.35" font-size="7.84" text-anchor="middle" fill="#1e1e1e" transform="matrix(1 0 0 1.1 0 -46.66)">H3K27me3</text>
<rect x="271.5" y="423.17" width="3.7" height="33.83" fill="#1f497d"/>
<line x1="273.35" y1="423.17" x2="273.35" y2="421.48" stroke="#383838" stroke-width="0.75"/>
<line x1="272.5" y1="421.48" x2="274.2" y2="421.48" stroke="#383838" stroke-width="0.75"/>
<rect x="276.8" y="415.01" width="3.7" height="41.99" fill="#215868"/>
<line x1="278.65" y1="415.01" x2="278.65" y2="412.91" stroke="#383838" stroke-width="0.75"/>
<line x1="277.8" y1="412.91" x2="279.5" y2="412.91" stroke="#383838" stroke-width="0.75"/>
<rect x="282.1" y="451.17" width="3.7" height="5.83" fill="#31859c"/>
<line x1="283.95" y1="451.17" x2="283.95" y2="449.87" stroke="#383838" stroke-width="0.75"/>
<line x1="283.1" y1="449.87" x2="284.8" y2="449.87" stroke="#383838" stroke-width="0.75"/>
<rect x="287.4" y="397.51" width="3.7" height="59.49" fill="#93cddd"/>
<line x1="289.25" y1="397.51" x2="289.25" y2="394.54" stroke="#383838" stroke-width="0.75"/>
<line x1="288.4" y1="394.54" x2="290.1" y2="394.54" stroke="#383838" stroke-width="0.75"/>
<rect x="292.7" y="437.95" width="3.7" height="19.05" fill="#c0504d"/>
<line x1="294.55" y1="437.95" x2="294.55" y2="436.65" stroke="#383838" stroke-width="0.75"/>
<line x1="293.7" y1="436.65" x2="295.4" y2="436.65" stroke="#383838" stroke-width="0.75"/>
<rect x="298" y="431.92" width="3.7" height="25.08" fill="#d99694"/>
<line x1="299.85" y1="431.92" x2="299.85" y2="430.62" stroke="#383838" stroke-width="0.75"/>
<line x1="299" y1="430.62" x2="300.7" y2="430.62" stroke="#383838" stroke-width="0.75"/>
<rect x="303.3" y="423.17" width="3.7" height="33.83" fill="#e6b9b8"/>
<line x1="305.15" y1="423.17" x2="305.15" y2="421.48" stroke="#383838" stroke-width="0.75"/>
<line x1="304.3" y1="421.48" x2="306" y2="421.48" stroke="#383838" stroke-width="0.75"/>
<text x="104.5" y="452.39" font-size="10.5" text-anchor="start" font-weight="bold" fill="#1e1e1e" transform="matrix(1 0 0 1.0 0 0)">*</text>
<text x="109" y="394.39" font-size="10.5" text-anchor="start" font-weight="bold" fill="#1e1e1e" transform="matrix(1 0 0 1.0 0 0)">***</text>
<text x="188" y="383.19" font-size="10.5" text-anchor="start" font-weight="bold" fill="#1e1e1e" transform="matrix(1 0 0 1.0 0 0)">*</text>
<text x="193" y="446.39" font-size="10.5" text-anchor="start" font-weight="bold" fill="#1e1e1e" transform="matrix(1 0 0 1.0 0 0)">*</text>
<text x="281.5" y="451.39" font-size="10.5" text-anchor="start" font-weight="bold" fill="#1e1e1e" transform="matrix(1 0 0 1.0 0 0)">*</text>
<text x="284" y="395.19" font-size="10.5" text-anchor="start" font-weight="bold" fill="#1e1e1e" transform="matrix(1 0 0 1.0 0 0)">**</text>
<text x="9.8" y="520.4" font-size="14" text-anchor="start" font-weight="bold" fill="#1e1e1e" transform="matrix(1 0 0 1.0 0 0)">d</text>
<text x="163" y="521.44" font-size="9.51" text-anchor="middle" fill="#1e1e1e" transform="matrix(1 0 0 1.1 0 -51.81)">H3K9ac</text>
<rect x="51" y="531.2" width="3.5" height="3.8" fill="#1f497d"/>
<text x="56.8" y="535.85" font-size="7.84" text-anchor="start" fill="#1e1e1e" transform="matrix(1 0 0 1.1 0 -53.31)">BT474</text>
<rect x="109.3" y="531.2" width="3.5" height="3.8" fill="#215868"/>
<text x="115.1" y="535.85" font-size="7.84" text-anchor="start" fill="#1e1e1e" transform="matrix(1 0 0 1.1 0 -53.31)">MCF7</text>
<rect x="166" y="531.2" width="3.5" height="3.8" fill="#31859c"/>
<text x="171.8" y="535.85" font-size="7.84" text-anchor="start" fill="#1e1e1e" transform="matrix(1 0 0 1.1 0 -53.31)">T47D</text>
<rect x="223.8" y="531.2" width="3.5" height="3.8" fill="#93cddd"/>
<text x="229.6" y="535.85" font-size="7.84" text-anchor="start" fill="#1e1e1e" transform="matrix(1 0 0 1.1 0 -53.31)">MDA-MB-453</text>
<rect x="51" y="542.7" width="3.5" height="3.8" fill="#c0504d"/>
<text x="56.8" y="547.35" font-size="7.84" text-anchor="start" fill="#1e1e1e" transform="matrix(1 0 0 1.1 0 -54.46)">MDA-MB-231</text>
<rect x="108.2" y="542.7" width="3.5" height="3.8" fill="#d99694"/>
<text x="114" y="547.35" font-size="7.84" text-anchor="start" fill="#1e1e1e" transform="matrix(1 0 0 1.1 0 -54.46)">MDA-MB-157</text>
<rect x="165.6" y="542.7" width="3.5" height="3.8" fill="#e6b9b8"/>
<text x="171.4" y="547.35" font-size="7.84" text-anchor="start" fill="#1e1e1e" transform="matrix(1 0 0 1.1 0 -54.46)">MDA-MB-468</text>
<line x1="44.6" y1="557.85" x2="44.6" y2="673.25" stroke="#3a3a3a" stroke-width="1"/>
<line x1="41.6" y1="644.25" x2="44.6" y2="644.25" stroke="#3a3a3a" stroke-width="1"/>
<text x="38" y="647" font-size="7.84" text-anchor="end" fill="#1e1e1e" transform="matrix(1 0 0 1.1 0 -64.43)">0</text>
<line x1="41.6" y1="633.45" x2="44.6" y2="633.45" stroke="#3a3a3a" stroke-width="1"/>
<text x="38" y="636.2" font-size="7.84" text-anchor="end" fill="#1e1e1e" transform="matrix(1 0 0 1.1 0 -63.35)">0.5</text>
<line x1="41.6" y1="622.65" x2="44.6" y2="622.65" stroke="#3a3a3a" stroke-width="1"/>
<text x="38" y="625.4" font-size="7.84" text-anchor="end" fill="#1e1e1e" transform="matrix(1 0 0 1.1 0 -62.27)">1</text>
<line x1="41.6" y1="611.85" x2="44.6" y2="611.85" stroke="#3a3a3a" stroke-width="1"/>
<text x="38" y="614.6" font-size="7.84" text-anchor="end" fill="#1e1e1e" transform="matrix(1 0 0 1.1 0 -61.19)">1.5</text>
<line x1="41.6" y1="601.05" x2="44.6" y2="601.05" stroke="#3a3a3a" stroke-width="1"/>
<text x="38" y="603.8" font-size="7.84" text-anchor="end" fill="#1e1e1e" transform="matrix(1 0 0 1.1 0 -60.11)">2</text>
<line x1="41.6" y1="590.25" x2="44.6" y2="590.25" stroke="#3a3a3a" stroke-width="1"/>
<text x="38" y="593" font-size="7.84" text-anchor="end" fill="#1e1e1e" transform="matrix(1 0 0 1.1 0 -59.03)">2.5</text>
<line x1="41.6" y1="579.45" x2="44.6" y2="579.45" stroke="#3a3a3a" stroke-width="1"/>
<text x="38" y="582.2" font-size="7.84" text-anchor="end" fill="#1e1e1e" transform="matrix(1 0 0 1.1 0 -57.95)">3</text>
<line x1="41.6" y1="568.65" x2="44.6" y2="568.65" stroke="#3a3a3a" stroke-width="1"/>
<text x="38" y="571.4" font-size="7.84" text-anchor="end" fill="#1e1e1e" transform="matrix(1 0 0 1.1 0 -56.87)">3.5</text>
<line x1="41.6" y1="557.85" x2="44.6" y2="557.85" stroke="#3a3a3a" stroke-width="1"/>
<text x="38" y="560.6" font-size="7.84" text-anchor="end" fill="#1e1e1e" transform="matrix(1 0 0 1.1 0 -55.79)">4</text>
<text x="23.86" y="600.55" font-size="8.13" text-anchor="middle" fill="#1e1e1e" transform="matrix(1.1 0 0 1 -2.1 0) rotate(-90 23.86 600.55)">% of Input</text>
<line x1="44.6" y1="644.25" x2="311.6" y2="644.25" stroke="#3a3a3a" stroke-width="1"/>
<line x1="133.6" y1="644.25" x2="133.6" y2="673.25" stroke="#3a3a3a" stroke-width="1"/>
<line x1="222.6" y1="644.25" x2="222.6" y2="673.25" stroke="#3a3a3a" stroke-width="1"/>
<line x1="311.6" y1="644.25" x2="311.6" y2="673.25" stroke="#3a3a3a" stroke-width="1"/>
<text x="89.1" y="671.3" font-size="7.84" text-anchor="middle" fill="#1e1e1e" transform="matrix(1 0 0 1.1 0 -66.86)">Amp. site #1</text>
<text x="66.85" y="656.6" font-size="7.84" text-anchor="middle" fill="#1e1e1e" transform="matrix(1 0 0 1.1 0 -65.39)">IgG</text>
<rect x="49" y="641.01" width="3.7" height="3.24" fill="#1f497d"/>
<line x1="50.85" y1="641.01" x2="50.85" y2="639.71" stroke="#383838" stroke-width="0.75"/>
<line x1="50" y1="639.71" x2="51.7" y2="639.71" stroke="#383838" stroke-width="0.75"/>
<rect x="54.3" y="639.5" width="3.7" height="4.75" fill="#215868"/>
<line x1="56.15" y1="639.5" x2="56.15" y2="638.2" stroke="#383838" stroke-width="0.75"/>
<line x1="55.3" y1="638.2" x2="57" y2="638.2" stroke="#383838" stroke-width="0.75"/>
<rect x="59.6" y="637.12" width="3.7" height="7.13" fill="#31859c"/>
<line x1="61.45" y1="637.12" x2="61.45" y2="635.82" stroke="#383838" stroke-width="0.75"/>
<line x1="60.6" y1="635.82" x2="62.3" y2="635.82" stroke="#383838" stroke-width="0.75"/>
<rect x="64.9" y="639.28" width="3.7" height="4.97" fill="#93cddd"/>
<line x1="66.75" y1="639.28" x2="66.75" y2="637.98" stroke="#383838" stroke-width="0.75"/>
<line x1="65.9" y1="637.98" x2="67.6" y2="637.98" stroke="#383838" stroke-width="0.75"/>
<rect x="70.2" y="638.85" width="3.7" height="5.4" fill="#c0504d"/>
<line x1="72.05" y1="638.85" x2="72.05" y2="637.55" stroke="#383838" stroke-width="0.75"/>
<line x1="71.2" y1="637.55" x2="72.9" y2="637.55" stroke="#383838" stroke-width="0.75"/>
<rect x="75.5" y="640.58" width="3.7" height="3.67" fill="#d99694"/>
<line x1="77.35" y1="640.58" x2="77.35" y2="639.28" stroke="#383838" stroke-width="0.75"/>
<line x1="76.5" y1="639.28" x2="78.2" y2="639.28" stroke="#383838" stroke-width="0.75"/>
<rect x="80.8" y="638.2" width="3.7" height="6.05" fill="#e6b9b8"/>
<line x1="82.65" y1="638.2" x2="82.65" y2="636.9" stroke="#383838" stroke-width="0.75"/>
<line x1="81.8" y1="636.9" x2="83.5" y2="636.9" stroke="#383838" stroke-width="0.75"/>
<text x="111.35" y="656.6" font-size="7.84" text-anchor="middle" fill="#1e1e1e" transform="matrix(1 0 0 1.1 0 -65.39)">H3K9ac</text>
<rect x="93.5" y="616.17" width="3.7" height="28.08" fill="#1f497d"/>
<line x1="95.35" y1="616.17" x2="95.35" y2="614.77" stroke="#383838" stroke-width="0.75"/>
<line x1="94.5" y1="614.77" x2="96.2" y2="614.77" stroke="#383838" stroke-width="0.75"/>
<rect x="98.8" y="576.86" width="3.7" height="67.39" fill="#215868"/>
<line x1="100.65" y1="576.86" x2="100.65" y2="573.49" stroke="#383838" stroke-width="0.75"/>
<line x1="99.8" y1="573.49" x2="101.5" y2="573.49" stroke="#383838" stroke-width="0.75"/>
<rect x="104.1" y="568.65" width="3.7" height="75.6" fill="#31859c"/>
<line x1="105.95" y1="568.65" x2="105.95" y2="564.87" stroke="#383838" stroke-width="0.75"/>
<line x1="105.1" y1="564.87" x2="106.8" y2="564.87" stroke="#383838" stroke-width="0.75"/>
<rect x="109.4" y="591.98" width="3.7" height="52.27" fill="#93cddd"/>
<line x1="111.25" y1="591.98" x2="111.25" y2="589.36" stroke="#383838" stroke-width="0.75"/>
<line x1="110.4" y1="589.36" x2="112.1" y2="589.36" stroke="#383838" stroke-width="0.75"/>
<rect x="114.7" y="611.42" width="3.7" height="32.83" fill="#c0504d"/>
<line x1="116.55" y1="611.42" x2="116.55" y2="609.78" stroke="#383838" stroke-width="0.75"/>
<line x1="115.7" y1="609.78" x2="117.4" y2="609.78" stroke="#383838" stroke-width="0.75"/>
<rect x="120" y="620.92" width="3.7" height="23.33" fill="#d99694"/>
<line x1="121.85" y1="620.92" x2="121.85" y2="619.62" stroke="#383838" stroke-width="0.75"/>
<line x1="121" y1="619.62" x2="122.7" y2="619.62" stroke="#383838" stroke-width="0.75"/>
<rect x="125.3" y="598.46" width="3.7" height="45.79" fill="#e6b9b8"/>
<line x1="127.15" y1="598.46" x2="127.15" y2="596.17" stroke="#383838" stroke-width="0.75"/>
<line x1="126.3" y1="596.17" x2="128" y2="596.17" stroke="#383838" stroke-width="0.75"/>
<text x="178.1" y="671.3" font-size="7.84" text-anchor="middle" fill="#1e1e1e" transform="matrix(1 0 0 1.1 0 -66.86)">Amp. site #2</text>
<text x="155.85" y="656.6" font-size="7.84" text-anchor="middle" fill="#1e1e1e" transform="matrix(1 0 0 1.1 0 -65.39)">IgG</text>
<rect x="138" y="642.74" width="3.7" height="1.51" fill="#1f497d"/>
<line x1="139.85" y1="642.74" x2="139.85" y2="641.44" stroke="#383838" stroke-width="0.75"/>
<line x1="139" y1="641.44" x2="140.7" y2="641.44" stroke="#383838" stroke-width="0.75"/>
<rect x="143.3" y="637.77" width="3.7" height="6.48" fill="#215868"/>
<line x1="145.15" y1="637.77" x2="145.15" y2="636.47" stroke="#383838" stroke-width="0.75"/>
<line x1="144.3" y1="636.47" x2="146" y2="636.47" stroke="#383838" stroke-width="0.75"/>
<rect x="148.6" y="641.66" width="3.7" height="2.59" fill="#31859c"/>
<line x1="150.45" y1="641.66" x2="150.45" y2="640.36" stroke="#383838" stroke-width="0.75"/>
<line x1="149.6" y1="640.36" x2="151.3" y2="640.36" stroke="#383838" stroke-width="0.75"/>
<rect x="153.9" y="642.52" width="3.7" height="1.73" fill="#93cddd"/>
<line x1="155.75" y1="642.52" x2="155.75" y2="641.22" stroke="#383838" stroke-width="0.75"/>
<line x1="154.9" y1="641.22" x2="156.6" y2="641.22" stroke="#383838" stroke-width="0.75"/>
<rect x="159.2" y="638.2" width="3.7" height="6.05" fill="#c0504d"/>
<line x1="161.05" y1="638.2" x2="161.05" y2="636.9" stroke="#383838" stroke-width="0.75"/>
<line x1="160.2" y1="636.9" x2="161.9" y2="636.9" stroke="#383838" stroke-width="0.75"/>
<rect x="164.5" y="642.09" width="3.7" height="2.16" fill="#d99694"/>
<line x1="166.35" y1="642.09" x2="166.35" y2="640.79" stroke="#383838" stroke-width="0.75"/>
<line x1="165.5" y1="640.79" x2="167.2" y2="640.79" stroke="#383838" stroke-width="0.75"/>
<rect x="169.8" y="641.01" width="3.7" height="3.24" fill="#e6b9b8"/>
<line x1="171.65" y1="641.01" x2="171.65" y2="639.71" stroke="#383838" stroke-width="0.75"/>
<line x1="170.8" y1="639.71" x2="172.5" y2="639.71" stroke="#383838" stroke-width="0.75"/>
<text x="200.35" y="656.6" font-size="7.84" text-anchor="middle" fill="#1e1e1e" transform="matrix(1 0 0 1.1 0 -65.39)">H3K9ac</text>
<rect x="182.5" y="604.51" width="3.7" height="39.74" fill="#1f497d"/>
<line x1="184.35" y1="604.51" x2="184.35" y2="602.52" stroke="#383838" stroke-width="0.75"/>
<line x1="183.5" y1="602.52" x2="185.2" y2="602.52" stroke="#383838" stroke-width="0.75"/>
<rect x="187.8" y="585.07" width="3.7" height="59.18" fill="#215868"/>
<line x1="189.65" y1="585.07" x2="189.65" y2="582.11" stroke="#383838" stroke-width="0.75"/>
<line x1="188.8" y1="582.11" x2="190.5" y2="582.11" stroke="#383838" stroke-width="0.75"/>
<rect x="193.1" y="596.95" width="3.7" height="47.3" fill="#31859c"/>
<line x1="194.95" y1="596.95" x2="194.95" y2="594.58" stroke="#383838" stroke-width="0.75"/>
<line x1="194.1" y1="594.58" x2="195.8" y2="594.58" stroke="#383838" stroke-width="0.75"/>
<rect x="198.4" y="585.71" width="3.7" height="58.54" fill="#93cddd"/>
<line x1="200.25" y1="585.71" x2="200.25" y2="582.79" stroke="#383838" stroke-width="0.75"/>
<line x1="199.4" y1="582.79" x2="201.1" y2="582.79" stroke="#383838" stroke-width="0.75"/>
<rect x="203.7" y="586.79" width="3.7" height="57.46" fill="#c0504d"/>
<line x1="205.55" y1="586.79" x2="205.55" y2="583.92" stroke="#383838" stroke-width="0.75"/>
<line x1="204.7" y1="583.92" x2="206.4" y2="583.92" stroke="#383838" stroke-width="0.75"/>
<rect x="209" y="614.44" width="3.7" height="29.81" fill="#d99694"/>
<line x1="210.85" y1="614.44" x2="210.85" y2="612.95" stroke="#383838" stroke-width="0.75"/>
<line x1="210" y1="612.95" x2="211.7" y2="612.95" stroke="#383838" stroke-width="0.75"/>
<rect x="214.3" y="599.54" width="3.7" height="44.71" fill="#e6b9b8"/>
<line x1="216.15" y1="599.54" x2="216.15" y2="597.3" stroke="#383838" stroke-width="0.75"/>
<line x1="215.3" y1="597.3" x2="217" y2="597.3" stroke="#383838" stroke-width="0.75"/>
<text x="267.1" y="671.3" font-size="7.84" text-anchor="middle" fill="#1e1e1e" transform="matrix(1 0 0 1.1 0 -66.86)">Amp. site #3</text>
<text x="244.85" y="656.6" font-size="7.84" text-anchor="middle" fill="#1e1e1e" transform="matrix(1 0 0 1.1 0 -65.39)">IgG</text>
<rect x="227" y="642.74" width="3.7" height="1.51" fill="#1f497d"/>
<line x1="228.85" y1="642.74" x2="228.85" y2="641.44" stroke="#383838" stroke-width="0.75"/>
<line x1="228" y1="641.44" x2="229.7" y2="641.44" stroke="#383838" stroke-width="0.75"/>
<rect x="232.3" y="641.66" width="3.7" height="2.59" fill="#215868"/>
<line x1="234.15" y1="641.66" x2="234.15" y2="640.36" stroke="#383838" stroke-width="0.75"/>
<line x1="233.3" y1="640.36" x2="235" y2="640.36" stroke="#383838" stroke-width="0.75"/>
<rect x="237.6" y="642.09" width="3.7" height="2.16" fill="#31859c"/>
<line x1="239.45" y1="642.09" x2="239.45" y2="640.79" stroke="#383838" stroke-width="0.75"/>
<line x1="238.6" y1="640.79" x2="240.3" y2="640.79" stroke="#383838" stroke-width="0.75"/>
<rect x="242.9" y="642.09" width="3.7" height="2.16" fill="#93cddd"/>
<line x1="244.75" y1="642.09" x2="244.75" y2="640.79" stroke="#383838" stroke-width="0.75"/>
<line x1="243.9" y1="640.79" x2="245.6" y2="640.79" stroke="#383838" stroke-width="0.75"/>
<rect x="248.2" y="640.58" width="3.7" height="3.67" fill="#c0504d"/>
<line x1="250.05" y1="640.58" x2="250.05" y2="639.28" stroke="#383838" stroke-width="0.75"/>
<line x1="249.2" y1="639.28" x2="250.9" y2="639.28" stroke="#383838" stroke-width="0.75"/>
<rect x="253.5" y="641.66" width="3.7" height="2.59" fill="#d99694"/>
<line x1="255.35" y1="641.66" x2="255.35" y2="640.36" stroke="#383838" stroke-width="0.75"/>
<line x1="254.5" y1="640.36" x2="256.2" y2="640.36" stroke="#383838" stroke-width="0.75"/>
<rect x="258.8" y="639.28" width="3.7" height="4.97" fill="#e6b9b8"/>
<line x1="260.65" y1="639.28" x2="260.65" y2="637.98" stroke="#383838" stroke-width="0.75"/>
<line x1="259.8" y1="637.98" x2="261.5" y2="637.98" stroke="#383838" stroke-width="0.75"/>
<text x="289.35" y="656.6" font-size="7.84" text-anchor="middle" fill="#1e1e1e" transform="matrix(1 0 0 1.1 0 -65.39)">H3K9ac</text>
<rect x="271.5" y="609.26" width="3.7" height="34.99" fill="#1f497d"/>
<line x1="273.35" y1="609.26" x2="273.35" y2="607.51" stroke="#383838" stroke-width="0.75"/>
<line x1="272.5" y1="607.51" x2="274.2" y2="607.51" stroke="#383838" stroke-width="0.75"/>
<rect x="276.8" y="607.53" width="3.7" height="36.72" fill="#215868"/>
<line x1="278.65" y1="607.53" x2="278.65" y2="605.69" stroke="#383838" stroke-width="0.75"/>
<line x1="277.8" y1="605.69" x2="279.5" y2="605.69" stroke="#383838" stroke-width="0.75"/>
<rect x="282.1" y="617.03" width="3.7" height="27.22" fill="#31859c"/>
<line x1="283.95" y1="617.03" x2="283.95" y2="615.67" stroke="#383838" stroke-width="0.75"/>
<line x1="283.1" y1="615.67" x2="284.8" y2="615.67" stroke="#383838" stroke-width="0.75"/>
<rect x="287.4" y="582.47" width="3.7" height="61.78" fill="#93cddd"/>
<line x1="289.25" y1="582.47" x2="289.25" y2="579.39" stroke="#383838" stroke-width="0.75"/>
<line x1="288.4" y1="579.39" x2="290.1" y2="579.39" stroke="#383838" stroke-width="0.75"/>
<rect x="292.7" y="614.44" width="3.7" height="29.81" fill="#c0504d"/>
<line x1="294.55" y1="614.44" x2="294.55" y2="612.95" stroke="#383838" stroke-width="0.75"/>
<line x1="293.7" y1="612.95" x2="295.4" y2="612.95" stroke="#383838" stroke-width="0.75"/>
<rect x="298" y="604.94" width="3.7" height="39.31" fill="#d99694"/>
<line x1="299.85" y1="604.94" x2="299.85" y2="602.97" stroke="#383838" stroke-width="0.75"/>
<line x1="299" y1="602.97" x2="300.7" y2="602.97" stroke="#383838" stroke-width="0.75"/>
<rect x="303.3" y="590.03" width="3.7" height="54.22" fill="#e6b9b8"/>
<line x1="305.15" y1="590.03" x2="305.15" y2="587.32" stroke="#383838" stroke-width="0.75"/>
<line x1="304.3" y1="587.32" x2="306" y2="587.32" stroke="#383838" stroke-width="0.75"/>
<text x="98.5" y="573.39" font-size="10.5" text-anchor="start" font-weight="bold" fill="#1e1e1e" transform="matrix(1 0 0 1.0 0 0)">*</text>
<text x="104" y="565.39" font-size="10.5" text-anchor="start" font-weight="bold" fill="#1e1e1e" transform="matrix(1 0 0 1.0 0 0)">*</text>
<text x="333.8" y="21" font-size="14" text-anchor="start" font-weight="bold" fill="#1e1e1e" transform="matrix(1 0 0 1.0 0 0)">e</text>
<line x1="365.8" y1="59.9" x2="365.8" y2="160.7" stroke="#3a3a3a" stroke-width="1"/>
<line x1="362.8" y1="160.7" x2="365.8" y2="160.7" stroke="#3a3a3a" stroke-width="1"/>
<text x="363" y="163.52" font-size="8.04" text-anchor="end" fill="#1e1e1e" transform="matrix(1 0 0 1.1 0 -16.07)">-6</text>
<line x1="362.8" y1="146.3" x2="365.8" y2="146.3" stroke="#3a3a3a" stroke-width="1"/>
<text x="363" y="149.12" font-size="8.04" text-anchor="end" fill="#1e1e1e" transform="matrix(1 0 0 1.1 0 -14.63)">-4</text>
<line x1="362.8" y1="131.9" x2="365.8" y2="131.9" stroke="#3a3a3a" stroke-width="1"/>
<text x="363" y="134.72" font-size="8.04" text-anchor="end" fill="#1e1e1e" transform="matrix(1 0 0 1.1 0 -13.19)">-2</text>
<line x1="362.8" y1="117.5" x2="365.8" y2="117.5" stroke="#3a3a3a" stroke-width="1"/>
<text x="363" y="120.32" font-size="8.04" text-anchor="end" fill="#1e1e1e" transform="matrix(1 0 0 1.1 0 -11.75)">0</text>
<line x1="362.8" y1="103.1" x2="365.8" y2="103.1" stroke="#3a3a3a" stroke-width="1"/>
<text x="363" y="105.92" font-size="8.04" text-anchor="end" fill="#1e1e1e" transform="matrix(1 0 0 1.1 0 -10.31)">2</text>
<line x1="362.8" y1="88.7" x2="365.8" y2="88.7" stroke="#3a3a3a" stroke-width="1"/>
<text x="363" y="91.52" font-size="8.04" text-anchor="end" fill="#1e1e1e" transform="matrix(1 0 0 1.1 0 -8.87)">4</text>
<line x1="362.8" y1="74.3" x2="365.8" y2="74.3" stroke="#3a3a3a" stroke-width="1"/>
<text x="363" y="77.12" font-size="8.04" text-anchor="end" fill="#1e1e1e" transform="matrix(1 0 0 1.1 0 -7.43)">6</text>
<line x1="362.8" y1="59.9" x2="365.8" y2="59.9" stroke="#3a3a3a" stroke-width="1"/>
<text x="363" y="62.72" font-size="8.04" text-anchor="end" fill="#1e1e1e" transform="matrix(1 0 0 1.1 0 -5.99)">8</text>
<text x="340.97" y="110.5" font-size="7.89" text-anchor="middle" fill="#1e1e1e" transform="matrix(1.1 0 0 1 -33.82 0) rotate(-90 340.97 110.5)">SMYD3: mRNA expression</text>
<text x="351.69" y="110.5" font-size="7.94" text-anchor="middle" fill="#1e1e1e" transform="matrix(1.1 0 0 1 -34.89 0) rotate(-90 351.69 110.5)">z-scores (microarray)</text>
<line x1="425.5" y1="27.5" x2="502.5" y2="27.5" stroke="#333" stroke-width="1.1"/>
<text x="463.5" y="24.48" font-size="7.06" text-anchor="middle" fill="#1e1e1e" transform="matrix(1 0 0 1.1 0 -2.2)">p=0.127</text>
<line x1="425.5" y1="46.4" x2="477.5" y2="46.4" stroke="#333" stroke-width="1.1"/>
<text x="451" y="42.78" font-size="7.06" text-anchor="middle" fill="#1e1e1e" transform="matrix(1 0 0 1.1 0 -4.03)">p&lt;0.001</text>
<line x1="425.5" y1="65.4" x2="451.3" y2="65.4" stroke="#333" stroke-width="1.1"/>
<text x="438.4" y="61.78" font-size="7.06" text-anchor="middle" fill="#1e1e1e" transform="matrix(1 0 0 1.1 0 -5.93)">p&lt;0.001</text>
<line x1="400" y1="149.3" x2="425" y2="149.3" stroke="#333" stroke-width="1.1"/>
<text x="412.7" y="158.78" font-size="7.06" text-anchor="middle" fill="#1e1e1e" transform="matrix(1 0 0 1.1 0 -15.63)">p&lt;0.001</text>
<rect x="384.5" y="106.7" width="24.3" height="10.8" fill="none" stroke="#7fa2cb" stroke-width="0.95"/>
<line x1="384.5" y1="112.1" x2="408.8" y2="112.1" stroke="#7fa2cb" stroke-width="0.95"/>
<line x1="396.65" y1="106.7" x2="396.65" y2="92.66" stroke="#7fa2cb" stroke-width="0.95"/>
<line x1="396.65" y1="117.5" x2="396.65" y2="130.46" stroke="#7fa2cb" stroke-width="0.95"/>
<line x1="392.85" y1="92.66" x2="400.45" y2="92.66" stroke="#7fa2cb" stroke-width="0.95"/>
<line x1="392.85" y1="130.46" x2="400.45" y2="130.46" stroke="#7fa2cb" stroke-width="0.95"/>
<circle cx="396.65" cy="85.82" r="0.9" fill="#7fa2cb"/>
<circle cx="396.65" cy="88.7" r="0.9" fill="#7fa2cb"/>
<circle cx="396.65" cy="133.34" r="0.9" fill="#7fa2cb"/>
<circle cx="396.65" cy="135.5" r="0.9" fill="#7fa2cb"/>
<rect x="411.3" y="114.98" width="23.7" height="9.72" fill="none" stroke="#d8727c" stroke-width="0.95"/>
<line x1="411.3" y1="119.66" x2="435" y2="119.66" stroke="#d8727c" stroke-width="0.95"/>
<line x1="423.15" y1="114.98" x2="423.15" y2="105.26" stroke="#d8727c" stroke-width="0.95"/>
<line x1="423.15" y1="124.7" x2="423.15" y2="136.22" stroke="#d8727c" stroke-width="0.95"/>
<line x1="419.35" y1="105.26" x2="426.95" y2="105.26" stroke="#d8727c" stroke-width="0.95"/>
<line x1="419.35" y1="136.22" x2="426.95" y2="136.22" stroke="#d8727c" stroke-width="0.95"/>
<circle cx="423.15" cy="140.54" r="0.9" fill="#d8727c"/>
<rect x="437.5" y="106.7" width="23.8" height="11.52" fill="none" stroke="#c8c87c" stroke-width="0.95"/>
<line x1="437.5" y1="112.1" x2="461.3" y2="112.1" stroke="#c8c87c" stroke-width="0.95"/>
<line x1="449.4" y1="106.7" x2="449.4" y2="93.02" stroke="#c8c87c" stroke-width="0.95"/>
<line x1="449.4" y1="118.22" x2="449.4" y2="128.3" stroke="#c8c87c" stroke-width="0.95"/>
<line x1="445.6" y1="93.02" x2="453.2" y2="93.02" stroke="#c8c87c" stroke-width="0.95"/>
<line x1="445.6" y1="128.3" x2="453.2" y2="128.3" stroke="#c8c87c" stroke-width="0.95"/>
<circle cx="449.4" cy="89.42" r="0.9" fill="#c8c87c"/>
<rect x="463.3" y="104.9" width="24.2" height="11.52" fill="none" stroke="#86799a" stroke-width="0.95"/>
<line x1="463.3" y1="110.3" x2="487.5" y2="110.3" stroke="#86799a" stroke-width="0.95"/>
<line x1="475.4" y1="104.9" x2="475.4" y2="89.78" stroke="#86799a" stroke-width="0.95"/>
<line x1="475.4" y1="116.42" x2="475.4" y2="132.62" stroke="#86799a" stroke-width="0.95"/>
<line x1="471.6" y1="89.78" x2="479.2" y2="89.78" stroke="#86799a" stroke-width="0.95"/>
<line x1="471.6" y1="132.62" x2="479.2" y2="132.62" stroke="#86799a" stroke-width="0.95"/>
<circle cx="475.4" cy="83.66" r="0.9" fill="#86799a"/>
<circle cx="475.4" cy="135.5" r="0.9" fill="#86799a"/>
<circle cx="475.4" cy="137.66" r="0.9" fill="#86799a"/>
<circle cx="475.4" cy="140.54" r="0.9" fill="#86799a"/>
<rect x="489.4" y="119.3" width="24.1" height="7.2" fill="none" stroke="#5cbdc5" stroke-width="0.95"/>
<line x1="489.4" y1="123.12" x2="513.5" y2="123.12" stroke="#5cbdc5" stroke-width="0.95"/>
<line x1="501.45" y1="119.3" x2="501.45" y2="118.94" stroke="#5cbdc5" stroke-width="0.95"/>
<line x1="501.45" y1="126.5" x2="501.45" y2="132.26" stroke="#5cbdc5" stroke-width="0.95"/>
<line x1="497.65" y1="118.94" x2="505.25" y2="118.94" stroke="#5cbdc5" stroke-width="0.95"/>
<line x1="497.65" y1="132.26" x2="505.25" y2="132.26" stroke="#5cbdc5" stroke-width="0.95"/>
<circle cx="501.45" cy="107.06" r="0.9" fill="#5cbdc5"/>
<rect x="384.4" y="173" width="3" height="3" fill="none" stroke="#7fa2cb" stroke-width="0.85" style="filter:brightness(0.65)"/>
<text x="389" y="177.25" font-size="7.84" text-anchor="start" fill="#1e1e1e" transform="matrix(1 0 0 1.1 0 -17.45)">LumA</text>
<rect x="448.6" y="173" width="3" height="3" fill="none" stroke="#d8727c" stroke-width="0.85" style="filter:brightness(0.65)"/>
<text x="453.2" y="177.25" font-size="7.84" text-anchor="start" fill="#1e1e1e" transform="matrix(1 0 0 1.1 0 -17.45)">Basal-like</text>
<rect x="384.4" y="184" width="3" height="3" fill="none" stroke="#c8c87c" stroke-width="0.85" style="filter:brightness(0.65)"/>
<text x="389" y="188.25" font-size="7.84" text-anchor="start" fill="#1e1e1e" transform="matrix(1 0 0 1.1 0 -18.55)">LumB</text>
<rect x="448.6" y="184" width="3" height="3" fill="none" stroke="#86799a" stroke-width="0.85" style="filter:brightness(0.65)"/>
<text x="453.2" y="188.25" font-size="7.84" text-anchor="start" fill="#1e1e1e" transform="matrix(1 0 0 1.1 0 -18.55)">HER2-enriched</text>
<rect x="384.4" y="194.8" width="3" height="3" fill="none" stroke="#5cbdc5" stroke-width="0.85" style="filter:brightness(0.65)"/>
<text x="389" y="199.05" font-size="7.84" text-anchor="start" fill="#1e1e1e" transform="matrix(1 0 0 1.1 0 -19.63)">Normal-like</text>
<text x="564" y="21" font-size="14" text-anchor="start" font-weight="bold" fill="#1e1e1e" transform="matrix(1 0 0 1.0 0 0)">f</text>
<text x="599.2" y="24.8" font-size="7.99" text-anchor="start" fill="#1e1e1e" transform="matrix(1 0 0 1.1 0 -2.2)">CCLE-Breast cancer cell lines</text>
<text x="599.2" y="35.2" font-size="7.99" text-anchor="start" fill="#1e1e1e" transform="matrix(1 0 0 1.1 0 -3.24)">(top 50% of HOXB2 expression)</text>
<text x="599.2" y="44.1" font-size="8.15" fill="#1e1e1e">R<tspan font-size="5" dy="-2.8">2</tspan><tspan dy="2.8"> = 0.566</tspan></text>
<text x="599.2" y="54.8" font-size="7.99" text-anchor="start" fill="#1e1e1e" transform="matrix(1 0 0 1.1 0 -5.2)">p&lt;0.01</text>
<line x1="603.7" y1="62.3" x2="603.7" y2="165.3" stroke="#3a3a3a" stroke-width="1"/>
<line x1="603.7" y1="165.3" x2="709.2" y2="165.3" stroke="#3a3a3a" stroke-width="1"/>
<line x1="600.7" y1="165.3" x2="603.7" y2="165.3" stroke="#3a3a3a" stroke-width="1"/>
<text x="596.2" y="167.73" font-size="8.62" text-anchor="end" fill="#1e1e1e" transform="matrix(1 0 0 1.1 0 -16.47)">0</text>
<line x1="600.7" y1="152.43" x2="603.7" y2="152.43" stroke="#3a3a3a" stroke-width="1"/>
<text x="596.2" y="154.85" font-size="8.62" text-anchor="end" fill="#1e1e1e" transform="matrix(1 0 0 1.1 0 -15.18)">0.5</text>
<line x1="600.7" y1="139.55" x2="603.7" y2="139.55" stroke="#3a3a3a" stroke-width="1"/>
<text x="596.2" y="141.98" font-size="8.62" text-anchor="end" fill="#1e1e1e" transform="matrix(1 0 0 1.1 0 -13.9)">1</text>
<line x1="600.7" y1="126.68" x2="603.7" y2="126.68" stroke="#3a3a3a" stroke-width="1"/>
<text x="596.2" y="129.1" font-size="8.62" text-anchor="end" fill="#1e1e1e" transform="matrix(1 0 0 1.1 0 -12.61)">1.5</text>
<line x1="600.7" y1="113.8" x2="603.7" y2="113.8" stroke="#3a3a3a" stroke-width="1"/>
<text x="596.2" y="116.23" font-size="8.62" text-anchor="end" fill="#1e1e1e" transform="matrix(1 0 0 1.1 0 -11.32)">2</text>
<line x1="600.7" y1="100.93" x2="603.7" y2="100.93" stroke="#3a3a3a" stroke-width="1"/>
<text x="596.2" y="103.35" font-size="8.62" text-anchor="end" fill="#1e1e1e" transform="matrix(1 0 0 1.1 0 -10.03)">2.5</text>
<line x1="600.7" y1="88.05" x2="603.7" y2="88.05" stroke="#3a3a3a" stroke-width="1"/>
<text x="596.2" y="90.48" font-size="8.62" text-anchor="end" fill="#1e1e1e" transform="matrix(1 0 0 1.1 0 -8.75)">3</text>
<line x1="600.7" y1="75.18" x2="603.7" y2="75.18" stroke="#3a3a3a" stroke-width="1"/>
<text x="596.2" y="77.6" font-size="8.62" text-anchor="end" fill="#1e1e1e" transform="matrix(1 0 0 1.1 0 -7.46)">3.5</text>
<line x1="600.7" y1="62.3" x2="603.7" y2="62.3" stroke="#3a3a3a" stroke-width="1"/>
<text x="596.2" y="64.73" font-size="8.62" text-anchor="end" fill="#1e1e1e" transform="matrix(1 0 0 1.1 0 -6.17)">4</text>
<line x1="603.7" y1="165.3" x2="603.7" y2="167.5" stroke="#3a3a3a" stroke-width="1"/>
<text x="604" y="178.53" font-size="8.62" text-anchor="middle" fill="#1e1e1e" transform="matrix(1 0 0 1.1 0 -17.55)">0</text>
<line x1="624.8" y1="165.3" x2="624.8" y2="167.5" stroke="#3a3a3a" stroke-width="1"/>
<text x="625.1" y="178.53" font-size="8.62" text-anchor="middle" fill="#1e1e1e" transform="matrix(1 0 0 1.1 0 -17.55)">2</text>
<line x1="645.9" y1="165.3" x2="645.9" y2="167.5" stroke="#3a3a3a" stroke-width="1"/>
<text x="646.2" y="178.53" font-size="8.62" text-anchor="middle" fill="#1e1e1e" transform="matrix(1 0 0 1.1 0 -17.55)">4</text>
<line x1="667" y1="165.3" x2="667" y2="167.5" stroke="#3a3a3a" stroke-width="1"/>
<text x="667.3" y="178.53" font-size="8.62" text-anchor="middle" fill="#1e1e1e" transform="matrix(1 0 0 1.1 0 -17.55)">6</text>
<line x1="688.1" y1="165.3" x2="688.1" y2="167.5" stroke="#3a3a3a" stroke-width="1"/>
<text x="688.4" y="178.53" font-size="8.62" text-anchor="middle" fill="#1e1e1e" transform="matrix(1 0 0 1.1 0 -17.55)">8</text>
<line x1="709.2" y1="165.3" x2="709.2" y2="167.5" stroke="#3a3a3a" stroke-width="1"/>
<text x="709.5" y="178.53" font-size="8.62" text-anchor="middle" fill="#1e1e1e" transform="matrix(1 0 0 1.1 0 -17.55)">10</text>
<text x="659.3" y="190.6" font-size="8.82" text-anchor="middle" fill="#1e1e1e" transform="matrix(1 0 0 1.1 0 -18.75)">HOXB2: mRNA expression</text>
<text x="659.8" y="200.3" font-size="8.82" text-anchor="middle" fill="#1e1e1e" transform="matrix(1 0 0 1.1 0 -19.72)">(RNAseq)</text>
<text x="572.02" y="113.3" font-size="8.04" text-anchor="middle" fill="#1e1e1e" transform="matrix(1.1 0 0 1 -56.92 0) rotate(-90 572.02 113.3)">SYMD3: mRNA expression</text>
<text x="580.69" y="113" font-size="8.23" text-anchor="middle" fill="#1e1e1e" transform="matrix(1.1 0 0 1 -57.78 0) rotate(-90 580.69 113)">(RNAseq)</text>
<line x1="618" y1="140.5" x2="687.3" y2="90.5" stroke="#d98a94" stroke-width="1"/>
<circle cx="686.75" cy="70.75" r="1.95" fill="#111"/>
<circle cx="676.75" cy="90.75" r="1.95" fill="#111"/>
<circle cx="633.5" cy="96.75" r="1.95" fill="#111"/>
<circle cx="640.5" cy="105" r="1.95" fill="#111"/>
<circle cx="640.5" cy="106.5" r="1.95" fill="#111"/>
<circle cx="647.25" cy="108.75" r="1.95" fill="#111"/>
<circle cx="633.5" cy="118.75" r="1.95" fill="#111"/>
<circle cx="636.5" cy="118.75" r="1.95" fill="#111"/>
<circle cx="642.25" cy="117.5" r="1.95" fill="#111"/>
<circle cx="644.75" cy="118" r="1.95" fill="#111"/>
<circle cx="643.5" cy="120" r="1.95" fill="#111"/>
<circle cx="638" cy="122" r="1.95" fill="#111"/>
<circle cx="651" cy="125.5" r="1.95" fill="#111"/>
<circle cx="653.5" cy="127" r="1.95" fill="#111"/>
<circle cx="653.5" cy="131.5" r="1.95" fill="#111"/>
<circle cx="638" cy="129.5" r="1.95" fill="#111"/>
<circle cx="618" cy="130.75" r="1.95" fill="#111"/>
<circle cx="621.75" cy="133" r="1.95" fill="#111"/>
<circle cx="627.75" cy="131.5" r="1.95" fill="#111"/>
<circle cx="624.25" cy="138.25" r="1.95" fill="#111"/>
<circle cx="633.5" cy="136.5" r="1.95" fill="#111"/>
<circle cx="636.5" cy="136.5" r="1.95" fill="#111"/>
<circle cx="630.5" cy="140" r="1.95" fill="#111"/>
<circle cx="641" cy="140" r="1.95" fill="#111"/>
<circle cx="631.5" cy="145" r="1.95" fill="#111"/>
<circle cx="618" cy="158" r="1.95" fill="#111"/>
<circle cx="658.5" cy="164.5" r="1.95" fill="#111"/>
<text x="334.5" y="241.2" font-size="14" text-anchor="start" font-weight="bold" fill="#1e1e1e" transform="matrix(1 0 0 1.0 0 0)">g</text>
<text x="405.3" y="255.6" font-size="8.82" text-anchor="middle" fill="#1e1e1e" transform="matrix(1 0 0 1.1 0 -25.25)">RIP: HOXB-AS1</text>
<line x1="365.3" y1="274.2" x2="365.3" y2="317.5" stroke="#3a3a3a" stroke-width="1"/>
<line x1="365.3" y1="322.3" x2="365.3" y2="413.8" stroke="#3a3a3a" stroke-width="1"/>
<line x1="362.8" y1="274.2" x2="365.3" y2="274.2" stroke="#3a3a3a" stroke-width="1"/>
<text x="358.8" y="276.92" font-size="7.74" text-anchor="end" fill="#1e1e1e" transform="matrix(1 0 0 1.1 0 -27.42)">100</text>
<line x1="362.8" y1="302.2" x2="365.3" y2="302.2" stroke="#3a3a3a" stroke-width="1"/>
<text x="358.8" y="304.92" font-size="7.74" text-anchor="end" fill="#1e1e1e" transform="matrix(1 0 0 1.1 0 -30.22)">50</text>
<line x1="362.8" y1="322.3" x2="365.3" y2="322.3" stroke="#3a3a3a" stroke-width="1"/>
<text x="358.8" y="325.02" font-size="7.74" text-anchor="end" fill="#1e1e1e" transform="matrix(1 0 0 1.1 0 -32.23)">10</text>
<line x1="362.8" y1="339.8" x2="365.3" y2="339.8" stroke="#3a3a3a" stroke-width="1"/>
<text x="358.8" y="342.52" font-size="7.74" text-anchor="end" fill="#1e1e1e" transform="matrix(1 0 0 1.1 0 -33.98)">5</text>
<line x1="362.8" y1="357.2" x2="365.3" y2="357.2" stroke="#3a3a3a" stroke-width="1"/>
<text x="358.8" y="359.92" font-size="7.74" text-anchor="end" fill="#1e1e1e" transform="matrix(1 0 0 1.1 0 -35.72)">0</text>
<text x="343.29" y="314.1" font-size="7.94" text-anchor="middle" fill="#1e1e1e" transform="matrix(1.1 0 0 1 -34.05 0) rotate(-90 343.29 314.1)">Fold enrichment</text>
<line x1="365.3" y1="357.2" x2="550.5" y2="357.2" stroke="#3a3a3a" stroke-width="1"/>
<line x1="412" y1="357.2" x2="412" y2="413.8" stroke="#3a3a3a" stroke-width="1"/>
<line x1="458.3" y1="357.2" x2="458.3" y2="413.8" stroke="#3a3a3a" stroke-width="1"/>
<line x1="504.5" y1="357.2" x2="504.5" y2="413.8" stroke="#3a3a3a" stroke-width="1"/>
<line x1="550.5" y1="357.2" x2="550.5" y2="413.8" stroke="#3a3a3a" stroke-width="1"/>
<rect x="371.1" y="350.2" width="4.4" height="7" fill="#3ea4c2"/>
<line x1="373.3" y1="350.2" x2="373.3" y2="347.4" stroke="#2d6f8a" stroke-width="1"/>
<line x1="372.2" y1="347.4" x2="374.4" y2="347.4" stroke="#2d6f8a" stroke-width="1"/>
<rect x="386.4" y="282.99" width="4.8" height="34.51" fill="#3ea4c2"/>
<rect x="386.4" y="322.2" width="4.8" height="35" fill="#3ea4c2"/>
<line x1="388.8" y1="282.99" x2="388.8" y2="280.92" stroke="#2d6f8a" stroke-width="1"/>
<line x1="387.7" y1="280.92" x2="389.9" y2="280.92" stroke="#2d6f8a" stroke-width="1"/>
<rect x="402.1" y="348.45" width="4.4" height="8.75" fill="#3ea4c2"/>
<line x1="404.3" y1="348.45" x2="404.3" y2="346" stroke="#2d6f8a" stroke-width="1"/>
<line x1="403.2" y1="346" x2="405.4" y2="346" stroke="#2d6f8a" stroke-width="1"/>
<rect x="417.2" y="353.7" width="4.4" height="3.5" fill="#3ea4c2"/>
<line x1="419.4" y1="353.7" x2="419.4" y2="352.65" stroke="#2d6f8a" stroke-width="1"/>
<line x1="418.3" y1="352.65" x2="420.5" y2="352.65" stroke="#2d6f8a" stroke-width="1"/>
<rect x="432.6" y="305.56" width="4.8" height="11.94" fill="#3ea4c2"/>
<rect x="432.6" y="322.2" width="4.8" height="35" fill="#3ea4c2"/>
<line x1="435" y1="305.56" x2="435" y2="303.6" stroke="#2d6f8a" stroke-width="1"/>
<line x1="433.9" y1="303.6" x2="436.1" y2="303.6" stroke="#2d6f8a" stroke-width="1"/>
<rect x="448.2" y="351.6" width="4.4" height="5.6" fill="#3ea4c2"/>
<line x1="450.4" y1="351.6" x2="450.4" y2="348.1" stroke="#2d6f8a" stroke-width="1"/>
<line x1="449.3" y1="348.1" x2="451.5" y2="348.1" stroke="#2d6f8a" stroke-width="1"/>
<rect x="463.7" y="353.7" width="4.4" height="3.5" fill="#3ea4c2"/>
<line x1="465.9" y1="353.7" x2="465.9" y2="351.6" stroke="#2d6f8a" stroke-width="1"/>
<line x1="464.8" y1="351.6" x2="467" y2="351.6" stroke="#2d6f8a" stroke-width="1"/>
<rect x="479.1" y="356.85" width="4.4" height="0.35" fill="#3ea4c2"/>
<rect x="495" y="350.2" width="4.4" height="7" fill="#3ea4c2"/>
<line x1="497.2" y1="350.2" x2="497.2" y2="345.3" stroke="#2d6f8a" stroke-width="1"/>
<line x1="496.1" y1="345.3" x2="498.3" y2="345.3" stroke="#2d6f8a" stroke-width="1"/>
<rect x="510.3" y="353" width="4.4" height="4.2" fill="#3ea4c2"/>
<line x1="512.5" y1="353" x2="512.5" y2="352.65" stroke="#2d6f8a" stroke-width="1"/>
<line x1="511.4" y1="352.65" x2="513.6" y2="352.65" stroke="#2d6f8a" stroke-width="1"/>
<rect x="525" y="351.95" width="4.4" height="5.25" fill="#3ea4c2"/>
<line x1="527.2" y1="351.95" x2="527.2" y2="351.6" stroke="#2d6f8a" stroke-width="1"/>
<line x1="526.1" y1="351.6" x2="528.3" y2="351.6" stroke="#2d6f8a" stroke-width="1"/>
<rect x="540.8" y="350.2" width="4.4" height="7" fill="#3ea4c2"/>
<line x1="543" y1="350.2" x2="543" y2="345.3" stroke="#2d6f8a" stroke-width="1"/>
<line x1="541.9" y1="345.3" x2="544.1" y2="345.3" stroke="#2d6f8a" stroke-width="1"/>
<text x="376.86" y="361.3" font-size="8.13" text-anchor="end" fill="#1e1e1e" transform="matrix(1.1 0 0 1 -37.4 0) rotate(-90 376.86 361.3)">IgG</text>
<text x="421.66" y="361.3" font-size="8.13" text-anchor="end" fill="#1e1e1e" transform="matrix(1.1 0 0 1 -41.88 0) rotate(-90 421.66 361.3)">IgG</text>
<text x="468.16" y="361.3" font-size="8.13" text-anchor="end" fill="#1e1e1e" transform="matrix(1.1 0 0 1 -46.53 0) rotate(-90 468.16 361.3)">IgG</text>
<text x="514.76" y="361.3" font-size="8.13" text-anchor="end" fill="#1e1e1e" transform="matrix(1.1 0 0 1 -51.19 0) rotate(-90 514.76 361.3)">IgG</text>
<text x="391.66" y="361.3" font-size="8.13" text-anchor="end" fill="#1e1e1e" transform="matrix(1.1 0 0 1 -38.88 0) rotate(-90 391.66 361.3)">SMYD3</text>
<text x="437.86" y="361.3" font-size="8.13" text-anchor="end" fill="#1e1e1e" transform="matrix(1.1 0 0 1 -43.5 0) rotate(-90 437.86 361.3)">SMYD3</text>
<text x="484.16" y="361.3" font-size="8.13" text-anchor="end" fill="#1e1e1e" transform="matrix(1.1 0 0 1 -48.13 0) rotate(-90 484.16 361.3)">SMYD3</text>
<text x="530.06" y="361.3" font-size="8.13" text-anchor="end" fill="#1e1e1e" transform="matrix(1.1 0 0 1 -52.72 0) rotate(-90 530.06 361.3)">SMYD3</text>
<text x="406.56" y="361.3" font-size="8.13" text-anchor="end" fill="#1e1e1e" transform="matrix(1.1 0 0 1 -40.37 0) rotate(-90 406.56 361.3)">SP1</text>
<text x="452.66" y="361.3" font-size="8.13" text-anchor="end" fill="#1e1e1e" transform="matrix(1.1 0 0 1 -44.98 0) rotate(-90 452.66 361.3)">SP1</text>
<text x="499.46" y="361.3" font-size="8.13" text-anchor="end" fill="#1e1e1e" transform="matrix(1.1 0 0 1 -49.66 0) rotate(-90 499.46 361.3)">SP1</text>
<text x="545.26" y="361.3" font-size="8.13" text-anchor="end" fill="#1e1e1e" transform="matrix(1.1 0 0 1 -54.24 0) rotate(-90 545.26 361.3)">SP1</text>
<text x="388.8" y="403.06" font-size="8.13" text-anchor="middle" fill="#1e1e1e" transform="matrix(1 0 0 1.1 0 -40.02)">T47D</text>
<text x="435" y="403.06" font-size="8.13" text-anchor="middle" fill="#1e1e1e" transform="matrix(1 0 0 1.1 0 -40.02)">MCF7</text>
<text x="481.3" y="403.06" font-size="8.13" text-anchor="middle" fill="#1e1e1e" transform="matrix(1 0 0 1.1 0 -40.02)">MDA-MB-</text>
<text x="481.3" y="411.86" font-size="8.13" text-anchor="middle" fill="#1e1e1e" transform="matrix(1 0 0 1.1 0 -40.9)">231</text>
<text x="527.6" y="403.06" font-size="8.13" text-anchor="middle" fill="#1e1e1e" transform="matrix(1 0 0 1.1 0 -40.02)">MDA-MB-</text>
<text x="527.6" y="411.86" font-size="8.13" text-anchor="middle" fill="#1e1e1e" transform="matrix(1 0 0 1.1 0 -40.9)">468</text>
<text x="388.3" y="275.16" font-size="9.02" text-anchor="middle" fill="#1e1e1e" transform="matrix(1 0 0 1.1 0 -27.2)">p&lt;0.001</text>
<text x="435" y="296.16" font-size="9.02" text-anchor="middle" fill="#1e1e1e" transform="matrix(1 0 0 1.1 0 -29.3)">p&lt;0.001</text>
<text x="480.8" y="340.9" font-size="8.82" text-anchor="middle" fill="#1e1e1e" transform="matrix(1 0 0 1.1 0 -33.78)">N.S.</text>
<text x="527.2" y="340.9" font-size="8.82" text-anchor="middle" fill="#1e1e1e" transform="matrix(1 0 0 1.1 0 -33.78)">N.S.</text>
<text x="563" y="241.2" font-size="14" text-anchor="start" font-weight="bold" fill="#1e1e1e" transform="matrix(1 0 0 1.0 0 0)">h</text>
<text x="623" y="255.6" font-size="8.82" text-anchor="middle" fill="#1e1e1e" transform="matrix(1 0 0 1.1 0 -25.25)">RIP: HOXB-AS1</text>
<line x1="592" y1="270.3" x2="592" y2="411.3" stroke="#3a3a3a" stroke-width="1"/>
<line x1="589.5" y1="352.3" x2="592" y2="352.3" stroke="#3a3a3a" stroke-width="1"/>
<text x="587" y="355.12" font-size="8.04" text-anchor="end" fill="#1e1e1e" transform="matrix(1 0 0 1.1 0 -35.23)">0</text>
<line x1="589.5" y1="335.9" x2="592" y2="335.9" stroke="#3a3a3a" stroke-width="1"/>
<text x="587" y="338.72" font-size="8.04" text-anchor="end" fill="#1e1e1e" transform="matrix(1 0 0 1.1 0 -33.59)">0.2</text>
<line x1="589.5" y1="319.5" x2="592" y2="319.5" stroke="#3a3a3a" stroke-width="1"/>
<text x="587" y="322.32" font-size="8.04" text-anchor="end" fill="#1e1e1e" transform="matrix(1 0 0 1.1 0 -31.95)">0.4</text>
<line x1="589.5" y1="303.1" x2="592" y2="303.1" stroke="#3a3a3a" stroke-width="1"/>
<text x="587" y="305.92" font-size="8.04" text-anchor="end" fill="#1e1e1e" transform="matrix(1 0 0 1.1 0 -30.31)">0.6</text>
<line x1="589.5" y1="286.7" x2="592" y2="286.7" stroke="#3a3a3a" stroke-width="1"/>
<text x="587" y="289.52" font-size="8.04" text-anchor="end" fill="#1e1e1e" transform="matrix(1 0 0 1.1 0 -28.67)">0.8</text>
<line x1="589.5" y1="270.3" x2="592" y2="270.3" stroke="#3a3a3a" stroke-width="1"/>
<text x="587" y="273.12" font-size="8.04" text-anchor="end" fill="#1e1e1e" transform="matrix(1 0 0 1.1 0 -27.03)">1</text>
<text x="572.25" y="311.2" font-size="7.84" text-anchor="middle" fill="#1e1e1e" transform="matrix(1.1 0 0 1 -56.95 0) rotate(-90 572.25 311.2)">% of Input</text>
<line x1="592" y1="352.3" x2="714" y2="352.3" stroke="#3a3a3a" stroke-width="1"/>
<line x1="623" y1="352.3" x2="623" y2="411.3" stroke="#3a3a3a" stroke-width="1"/>
<line x1="654" y1="352.3" x2="654" y2="411.3" stroke="#3a3a3a" stroke-width="1"/>
<line x1="684.3" y1="352.3" x2="684.3" y2="411.3" stroke="#3a3a3a" stroke-width="1"/>
<line x1="714" y1="352.3" x2="714" y2="411.3" stroke="#3a3a3a" stroke-width="1"/>
<rect x="595.7" y="346.81" width="3.8" height="5.49" fill="#3ea4c2"/>
<line x1="597.6" y1="346.81" x2="597.6" y2="342.87" stroke="#2d6f8a" stroke-width="1"/>
<line x1="596.6" y1="342.87" x2="598.6" y2="342.87" stroke="#2d6f8a" stroke-width="1"/>
<rect x="606" y="300.64" width="3.8" height="51.66" fill="#3ea4c2"/>
<line x1="607.9" y1="300.64" x2="607.9" y2="295.72" stroke="#2d6f8a" stroke-width="1"/>
<line x1="606.9" y1="295.72" x2="608.9" y2="295.72" stroke="#2d6f8a" stroke-width="1"/>
<rect x="616" y="346.07" width="3.8" height="6.23" fill="#3ea4c2"/>
<line x1="617.9" y1="346.07" x2="617.9" y2="342.46" stroke="#2d6f8a" stroke-width="1"/>
<line x1="616.9" y1="342.46" x2="618.9" y2="342.46" stroke="#2d6f8a" stroke-width="1"/>
<rect x="626" y="347.38" width="3.8" height="4.92" fill="#3ea4c2"/>
<rect x="636.6" y="292.85" width="3.8" height="59.45" fill="#3ea4c2"/>
<line x1="638.5" y1="292.85" x2="638.5" y2="285.06" stroke="#2d6f8a" stroke-width="1"/>
<line x1="637.5" y1="285.06" x2="639.5" y2="285.06" stroke="#2d6f8a" stroke-width="1"/>
<rect x="646.6" y="346.15" width="3.8" height="6.15" fill="#3ea4c2"/>
<line x1="648.5" y1="346.15" x2="648.5" y2="342.87" stroke="#2d6f8a" stroke-width="1"/>
<line x1="647.5" y1="342.87" x2="649.5" y2="342.87" stroke="#2d6f8a" stroke-width="1"/>
<rect x="656.1" y="351.64" width="3.8" height="0.66" fill="#3ea4c2"/>
<rect x="667" y="347.38" width="3.8" height="4.92" fill="#3ea4c2"/>
<rect x="677.2" y="347.38" width="3.8" height="4.92" fill="#3ea4c2"/>
<line x1="679.1" y1="347.38" x2="679.1" y2="344.1" stroke="#2d6f8a" stroke-width="1"/>
<line x1="678.1" y1="344.1" x2="680.1" y2="344.1" stroke="#2d6f8a" stroke-width="1"/>
<rect x="687.2" y="346.15" width="3.8" height="6.15" fill="#3ea4c2"/>
<line x1="689.1" y1="346.15" x2="689.1" y2="342.46" stroke="#2d6f8a" stroke-width="1"/>
<line x1="688.1" y1="342.46" x2="690.1" y2="342.46" stroke="#2d6f8a" stroke-width="1"/>
<rect x="697.2" y="348.2" width="3.8" height="4.1" fill="#3ea4c2"/>
<rect x="707.2" y="345.33" width="3.8" height="6.97" fill="#3ea4c2"/>
<line x1="709.1" y1="345.33" x2="709.1" y2="340" stroke="#2d6f8a" stroke-width="1"/>
<line x1="708.1" y1="340" x2="710.1" y2="340" stroke="#2d6f8a" stroke-width="1"/>
<text x="600.68" y="356.8" font-size="7.35" text-anchor="end" fill="#1e1e1e" transform="matrix(1.1 0 0 1 -59.81 0) rotate(-90 600.68 356.8)">IgG</text>
<text x="630.98" y="356.8" font-size="7.35" text-anchor="end" fill="#1e1e1e" transform="matrix(1.1 0 0 1 -62.84 0) rotate(-90 630.98 356.8)">IgG</text>
<text x="661.08" y="356.8" font-size="7.35" text-anchor="end" fill="#1e1e1e" transform="matrix(1.1 0 0 1 -65.85 0) rotate(-90 661.08 356.8)">IgG</text>
<text x="692.18" y="356.8" font-size="7.35" text-anchor="end" fill="#1e1e1e" transform="matrix(1.1 0 0 1 -68.96 0) rotate(-90 692.18 356.8)">IgG</text>
<text x="610.98" y="356.8" font-size="7.35" text-anchor="end" fill="#1e1e1e" transform="matrix(1.1 0 0 1 -60.84 0) rotate(-90 610.98 356.8)">RNA Pol II</text>
<text x="641.58" y="356.8" font-size="7.35" text-anchor="end" fill="#1e1e1e" transform="matrix(1.1 0 0 1 -63.9 0) rotate(-90 641.58 356.8)">RNA Pol II</text>
<text x="671.98" y="356.8" font-size="7.35" text-anchor="end" fill="#1e1e1e" transform="matrix(1.1 0 0 1 -66.94 0) rotate(-90 671.98 356.8)">RNA Pol II</text>
<text x="702.18" y="356.8" font-size="7.35" text-anchor="end" fill="#1e1e1e" transform="matrix(1.1 0 0 1 -69.96 0) rotate(-90 702.18 356.8)">RNA Pol II</text>
<text x="620.98" y="356.8" font-size="7.35" text-anchor="end" fill="#1e1e1e" transform="matrix(1.1 0 0 1 -61.84 0) rotate(-90 620.98 356.8)">SP1</text>
<text x="651.58" y="356.8" font-size="7.35" text-anchor="end" fill="#1e1e1e" transform="matrix(1.1 0 0 1 -64.9 0) rotate(-90 651.58 356.8)">SP1</text>
<text x="682.18" y="356.8" font-size="7.35" text-anchor="end" fill="#1e1e1e" transform="matrix(1.1 0 0 1 -67.96 0) rotate(-90 682.18 356.8)">SP1</text>
<text x="712.18" y="356.8" font-size="7.35" text-anchor="end" fill="#1e1e1e" transform="matrix(1.1 0 0 1 -70.96 0) rotate(-90 712.18 356.8)">SP1</text>
<text x="608" y="401.38" font-size="7.35" text-anchor="middle" fill="#1e1e1e" transform="matrix(1 0 0 1.1 0 -39.88)">T47D</text>
<text x="638.5" y="401.38" font-size="7.35" text-anchor="middle" fill="#1e1e1e" transform="matrix(1 0 0 1.1 0 -39.88)">MCF7</text>
<text x="668.6" y="401.38" font-size="7.35" text-anchor="middle" fill="#1e1e1e" transform="matrix(1 0 0 1.1 0 -39.88)">MDA-</text>
<text x="668.6" y="409.58" font-size="7.35" text-anchor="middle" fill="#1e1e1e" transform="matrix(1 0 0 1.1 0 -40.7)">MB-231</text>
<text x="698.8" y="401.38" font-size="7.35" text-anchor="middle" fill="#1e1e1e" transform="matrix(1 0 0 1.1 0 -39.88)">MDA-</text>
<text x="698.8" y="409.58" font-size="7.35" text-anchor="middle" fill="#1e1e1e" transform="matrix(1 0 0 1.1 0 -40.7)">MB-468</text>
<text x="638.2" y="274.4" font-size="8.82" text-anchor="middle" fill="#1e1e1e" transform="matrix(1 0 0 1.1 0 -27.13)">p&lt;0.001</text>
<text x="607.5" y="289.4" font-size="8.82" text-anchor="middle" fill="#1e1e1e" transform="matrix(1 0 0 1.1 0 -28.63)">p&lt;0.01</text>
<text x="668.1" y="336.9" font-size="8.82" text-anchor="middle" fill="#1e1e1e" transform="matrix(1 0 0 1.1 0 -33.38)">N.S.</text>
<text x="698.1" y="333.1" font-size="8.82" text-anchor="middle" fill="#1e1e1e" transform="matrix(1 0 0 1.1 0 -33)">N.S.</text>
<text x="336" y="448.6" font-size="14" text-anchor="start" font-weight="bold" fill="#1e1e1e" transform="matrix(1 0 0 1.0 0 0)">i</text>
<line x1="365.8" y1="465.3" x2="365.8" y2="509.5" stroke="#3a3a3a" stroke-width="1"/>
<line x1="365.8" y1="516.5" x2="365.8" y2="662.5" stroke="#3a3a3a" stroke-width="1"/>
<line x1="363.3" y1="465.3" x2="365.8" y2="465.3" stroke="#3a3a3a" stroke-width="1"/>
<text x="359.6" y="468.16" font-size="8.13" text-anchor="end" fill="#1e1e1e" transform="matrix(1 0 0 1.1 0 -46.53)">60</text>
<line x1="363.3" y1="483.9" x2="365.8" y2="483.9" stroke="#3a3a3a" stroke-width="1"/>
<text x="359.6" y="486.76" font-size="8.13" text-anchor="end" fill="#1e1e1e" transform="matrix(1 0 0 1.1 0 -48.39)">40</text>
<line x1="363.3" y1="502.4" x2="365.8" y2="502.4" stroke="#3a3a3a" stroke-width="1"/>
<text x="359.6" y="505.26" font-size="8.13" text-anchor="end" fill="#1e1e1e" transform="matrix(1 0 0 1.1 0 -50.24)">20</text>
<line x1="363.3" y1="606.5" x2="365.8" y2="606.5" stroke="#3a3a3a" stroke-width="1"/>
<text x="359.6" y="609.36" font-size="8.13" text-anchor="end" fill="#1e1e1e" transform="matrix(1 0 0 1.1 0 -60.65)">0</text>
<line x1="363.3" y1="588.66" x2="365.8" y2="588.66" stroke="#3a3a3a" stroke-width="1"/>
<text x="359.6" y="591.52" font-size="8.13" text-anchor="end" fill="#1e1e1e" transform="matrix(1 0 0 1.1 0 -58.87)">0.5</text>
<line x1="363.3" y1="570.83" x2="365.8" y2="570.83" stroke="#3a3a3a" stroke-width="1"/>
<text x="359.6" y="573.69" font-size="8.13" text-anchor="end" fill="#1e1e1e" transform="matrix(1 0 0 1.1 0 -57.08)">1</text>
<line x1="363.3" y1="553" x2="365.8" y2="553" stroke="#3a3a3a" stroke-width="1"/>
<text x="359.6" y="555.85" font-size="8.13" text-anchor="end" fill="#1e1e1e" transform="matrix(1 0 0 1.1 0 -55.3)">1.5</text>
<line x1="363.3" y1="535.16" x2="365.8" y2="535.16" stroke="#3a3a3a" stroke-width="1"/>
<text x="359.6" y="538.02" font-size="8.13" text-anchor="end" fill="#1e1e1e" transform="matrix(1 0 0 1.1 0 -53.52)">2</text>
<line x1="363.3" y1="517.33" x2="365.8" y2="517.33" stroke="#3a3a3a" stroke-width="1"/>
<text x="359.6" y="520.18" font-size="8.13" text-anchor="end" fill="#1e1e1e" transform="matrix(1 0 0 1.1 0 -51.73)">2.5</text>
<text x="340.02" y="534.6" font-size="8.04" text-anchor="middle" fill="#1e1e1e" transform="matrix(1.1 0 0 1 -33.72 0) rotate(-90 340.02 534.6)">Normalized to Input</text>
<line x1="365.8" y1="606.5" x2="709.4" y2="606.5" stroke="#3a3a3a" stroke-width="1"/>
<line x1="451.8" y1="606.5" x2="451.8" y2="662.5" stroke="#3a3a3a" stroke-width="1"/>
<line x1="537.2" y1="606.5" x2="537.2" y2="662.5" stroke="#3a3a3a" stroke-width="1"/>
<line x1="623.2" y1="606.5" x2="623.2" y2="662.5" stroke="#3a3a3a" stroke-width="1"/>
<line x1="709.4" y1="606.5" x2="709.4" y2="662.5" stroke="#3a3a3a" stroke-width="1"/>
<rect x="374.3" y="580.46" width="6.2" height="26.04" fill="#dedaea"/>
<line x1="377.4" y1="580.46" x2="377.4" y2="571.54" stroke="#555" stroke-width="0.9"/>
<line x1="376.3" y1="571.54" x2="378.5" y2="571.54" stroke="#555" stroke-width="0.9"/>
<rect x="381.8" y="593.3" width="6.2" height="13.2" fill="#5b3f88"/>
<line x1="384.9" y1="593.3" x2="384.9" y2="591.52" stroke="#3a2a5a" stroke-width="0.9"/>
<line x1="383.8" y1="591.52" x2="386" y2="591.52" stroke="#3a2a5a" stroke-width="0.9"/>
<rect x="402.3" y="550.14" width="6.2" height="56.36" fill="#dedaea"/>
<line x1="405.4" y1="550.14" x2="405.4" y2="538.01" stroke="#555" stroke-width="0.9"/>
<line x1="404.3" y1="538.01" x2="406.5" y2="538.01" stroke="#555" stroke-width="0.9"/>
<rect x="409.8" y="587.95" width="6.2" height="18.55" fill="#5b3f88"/>
<line x1="412.9" y1="587.95" x2="412.9" y2="582.96" stroke="#3a2a5a" stroke-width="0.9"/>
<line x1="411.8" y1="582.96" x2="414" y2="582.96" stroke="#3a2a5a" stroke-width="0.9"/>
<rect x="430.9" y="546.22" width="6.2" height="60.28" fill="#dedaea"/>
<line x1="434" y1="546.22" x2="434" y2="536.23" stroke="#555" stroke-width="0.9"/>
<line x1="432.9" y1="536.23" x2="435.1" y2="536.23" stroke="#555" stroke-width="0.9"/>
<rect x="438.4" y="572.44" width="6.2" height="34.06" fill="#5b3f88"/>
<line x1="441.5" y1="572.44" x2="441.5" y2="566.55" stroke="#3a2a5a" stroke-width="0.9"/>
<line x1="440.4" y1="566.55" x2="442.6" y2="566.55" stroke="#3a2a5a" stroke-width="0.9"/>
<rect x="459.6" y="594.02" width="6.2" height="12.48" fill="#dedaea"/>
<line x1="462.7" y1="594.02" x2="462.7" y2="587.59" stroke="#555" stroke-width="0.9"/>
<line x1="461.6" y1="587.59" x2="463.8" y2="587.59" stroke="#555" stroke-width="0.9"/>
<rect x="467.1" y="605.79" width="6.2" height="0.71" fill="#5b3f88"/>
<rect x="487.6" y="502.4" width="6.2" height="7.6" fill="#dedaea"/>
<rect x="487.6" y="516.3" width="6.2" height="90.2" fill="#dedaea"/>
<line x1="490.7" y1="502.4" x2="490.7" y2="495.42" stroke="#555" stroke-width="0.9"/>
<line x1="489.6" y1="495.42" x2="491.8" y2="495.42" stroke="#555" stroke-width="0.9"/>
<rect x="516.3" y="476.08" width="6.2" height="33.92" fill="#dedaea"/>
<rect x="516.3" y="516.3" width="6.2" height="90.2" fill="#dedaea"/>
<line x1="519.4" y1="476.08" x2="519.4" y2="471.25" stroke="#555" stroke-width="0.9"/>
<line x1="518.3" y1="471.25" x2="520.5" y2="471.25" stroke="#555" stroke-width="0.9"/>
<rect x="523.8" y="567.26" width="6.2" height="39.24" fill="#5b3f88"/>
<line x1="526.9" y1="567.26" x2="526.9" y2="564.05" stroke="#3a2a5a" stroke-width="0.9"/>
<line x1="525.8" y1="564.05" x2="528" y2="564.05" stroke="#3a2a5a" stroke-width="0.9"/>
<rect x="545.6" y="605.43" width="6.2" height="1.07" fill="#dedaea"/>
<rect x="553.1" y="605.43" width="6.2" height="1.07" fill="#5b3f88"/>
<rect x="573.9" y="591.52" width="6.2" height="14.98" fill="#dedaea"/>
<line x1="577" y1="591.52" x2="577" y2="586.88" stroke="#555" stroke-width="0.9"/>
<line x1="575.9" y1="586.88" x2="578.1" y2="586.88" stroke="#555" stroke-width="0.9"/>
<rect x="581.4" y="604.72" width="6.2" height="1.78" fill="#5b3f88"/>
<line x1="584.5" y1="604.72" x2="584.5" y2="604.36" stroke="#3a2a5a" stroke-width="0.9"/>
<line x1="583.4" y1="604.36" x2="585.6" y2="604.36" stroke="#3a2a5a" stroke-width="0.9"/>
<rect x="602.4" y="549.43" width="6.2" height="57.07" fill="#dedaea"/>
<line x1="605.5" y1="549.43" x2="605.5" y2="547.29" stroke="#555" stroke-width="0.9"/>
<line x1="604.4" y1="547.29" x2="606.6" y2="547.29" stroke="#555" stroke-width="0.9"/>
<rect x="609.9" y="598.3" width="6.2" height="8.2" fill="#5b3f88"/>
<line x1="613" y1="598.3" x2="613" y2="596.16" stroke="#3a2a5a" stroke-width="0.9"/>
<line x1="611.9" y1="596.16" x2="614.1" y2="596.16" stroke="#3a2a5a" stroke-width="0.9"/>
<rect x="631.1" y="598.65" width="6.2" height="7.85" fill="#dedaea"/>
<line x1="634.2" y1="598.65" x2="634.2" y2="596.87" stroke="#555" stroke-width="0.9"/>
<line x1="633.1" y1="596.87" x2="635.3" y2="596.87" stroke="#555" stroke-width="0.9"/>
<rect x="638.6" y="599.72" width="6.2" height="6.78" fill="#5b3f88"/>
<line x1="641.7" y1="599.72" x2="641.7" y2="598.3" stroke="#3a2a5a" stroke-width="0.9"/>
<line x1="640.6" y1="598.3" x2="642.8" y2="598.3" stroke="#3a2a5a" stroke-width="0.9"/>
<rect x="659.9" y="563.34" width="6.2" height="43.16" fill="#dedaea"/>
<line x1="663" y1="563.34" x2="663" y2="559.06" stroke="#555" stroke-width="0.9"/>
<line x1="661.9" y1="559.06" x2="664.1" y2="559.06" stroke="#555" stroke-width="0.9"/>
<rect x="667.4" y="605.07" width="6.2" height="1.43" fill="#5b3f88"/>
<rect x="688.4" y="574.75" width="6.2" height="31.75" fill="#dedaea"/>
<line x1="691.5" y1="574.75" x2="691.5" y2="568.69" stroke="#555" stroke-width="0.9"/>
<line x1="690.4" y1="568.69" x2="692.6" y2="568.69" stroke="#555" stroke-width="0.9"/>
<rect x="695.9" y="605.43" width="6.2" height="1.07" fill="#5b3f88"/>
<text x="384.07" y="611.6" font-size="8.18" text-anchor="end" fill="#1e1e1e" transform="matrix(1.1 0 0 1 -38.12 0) rotate(-90 384.07 611.6)">IgG</text>
<text x="412.07" y="611.6" font-size="8.18" text-anchor="end" fill="#1e1e1e" transform="matrix(1.1 0 0 1 -40.92 0) rotate(-90 412.07 611.6)">SMYD3</text>
<text x="440.67" y="611.6" font-size="8.18" text-anchor="end" fill="#1e1e1e" transform="matrix(1.1 0 0 1 -43.78 0) rotate(-90 440.67 611.6)">H3K4me3</text>
<text x="469.37" y="611.6" font-size="8.18" text-anchor="end" fill="#1e1e1e" transform="matrix(1.1 0 0 1 -46.65 0) rotate(-90 469.37 611.6)">IgG</text>
<text x="497.37" y="611.6" font-size="8.18" text-anchor="end" fill="#1e1e1e" transform="matrix(1.1 0 0 1 -49.45 0) rotate(-90 497.37 611.6)">SMYD3</text>
<text x="526.07" y="611.6" font-size="8.18" text-anchor="end" fill="#1e1e1e" transform="matrix(1.1 0 0 1 -52.32 0) rotate(-90 526.07 611.6)">H3K4me3</text>
<text x="555.37" y="611.6" font-size="8.18" text-anchor="end" fill="#1e1e1e" transform="matrix(1.1 0 0 1 -55.25 0) rotate(-90 555.37 611.6)">IgG</text>
<text x="583.67" y="611.6" font-size="8.18" text-anchor="end" fill="#1e1e1e" transform="matrix(1.1 0 0 1 -58.08 0) rotate(-90 583.67 611.6)">SMYD3</text>
<text x="612.17" y="611.6" font-size="8.18" text-anchor="end" fill="#1e1e1e" transform="matrix(1.1 0 0 1 -60.93 0) rotate(-90 612.17 611.6)">H3K4me3</text>
<text x="640.87" y="611.6" font-size="8.18" text-anchor="end" fill="#1e1e1e" transform="matrix(1.1 0 0 1 -63.8 0) rotate(-90 640.87 611.6)">IgG</text>
<text x="669.67" y="611.6" font-size="8.18" text-anchor="end" fill="#1e1e1e" transform="matrix(1.1 0 0 1 -66.68 0) rotate(-90 669.67 611.6)">SMYD3</text>
<text x="698.17" y="611.6" font-size="8.18" text-anchor="end" fill="#1e1e1e" transform="matrix(1.1 0 0 1 -69.53 0) rotate(-90 698.17 611.6)">H3K4me3</text>
<text x="408.7" y="660.82" font-size="8.04" text-anchor="middle" fill="#1e1e1e" transform="matrix(1 0 0 1.1 0 -65.8)">Amp. site #1</text>
<text x="494.5" y="660.82" font-size="8.04" text-anchor="middle" fill="#1e1e1e" transform="matrix(1 0 0 1.1 0 -65.8)">Amp. site #2</text>
<text x="580.2" y="660.82" font-size="8.04" text-anchor="middle" fill="#1e1e1e" transform="matrix(1 0 0 1.1 0 -65.8)">Amp. site #1</text>
<text x="666.2" y="660.82" font-size="8.04" text-anchor="middle" fill="#1e1e1e" transform="matrix(1 0 0 1.1 0 -65.8)">Amp. site #2</text>
<line x1="369.5" y1="665.5" x2="535" y2="665.5" stroke="#3a3a3a" stroke-width="1"/>
<line x1="541" y1="665.5" x2="706" y2="665.5" stroke="#3a3a3a" stroke-width="1"/>
<text x="451.6" y="677.13" font-size="8.92" text-anchor="middle" fill="#1e1e1e" transform="matrix(1 0 0 1.1 0 -67.4)">T47D</text>
<text x="623.4" y="677.13" font-size="8.92" text-anchor="middle" fill="#1e1e1e" transform="matrix(1 0 0 1.1 0 -67.4)">MCF7</text>
<rect x="618.8" y="462.8" width="3.6" height="3.6" fill="#dedaea"/>
<text x="624.8" y="467.25" font-size="7.84" text-anchor="start" fill="#1e1e1e" transform="matrix(1 0 0 1.1 0 -46.45)">siCON</text>
<rect x="657.1" y="462.8" width="3.6" height="3.6" fill="#5b3f88"/>
<text x="662.3" y="467.25" font-size="7.84" text-anchor="start" fill="#1e1e1e" transform="matrix(1 0 0 1.1 0 -46.45)">siHOXB-AS1</text>
<text x="380.3" y="563.03" font-size="8.62" text-anchor="middle" fill="#1e1e1e" transform="matrix(1 0 0 1.1 0 -56)">N.S.</text>
<line x1="373" y1="566.5" x2="387.5" y2="566.5" stroke="#333" stroke-width="1.1"/>
<text x="409" y="530.53" font-size="8.62" text-anchor="middle" fill="#1e1e1e" transform="matrix(1 0 0 1.1 0 -52.75)">p&lt;0.05</text>
<line x1="402.5" y1="533.8" x2="416.3" y2="533.8" stroke="#333" stroke-width="1.1"/>
<text x="437.5" y="516.83" font-size="8.62" text-anchor="middle" fill="#1e1e1e" transform="matrix(1 0 0 1.1 0 -51.38)">p&lt;0.01</text>
<line x1="431.3" y1="520.5" x2="444.3" y2="520.5" stroke="#333" stroke-width="1.1"/>
<text x="466.5" y="579.33" font-size="8.62" text-anchor="middle" fill="#1e1e1e" transform="matrix(1 0 0 1.1 0 -57.63)">N.S.</text>
<line x1="460" y1="583.8" x2="473" y2="583.8" stroke="#333" stroke-width="1.1"/>
<text x="494.3" y="486.83" font-size="8.62" text-anchor="middle" fill="#1e1e1e" transform="matrix(1 0 0 1.1 0 -48.38)">p&lt;0.001</text>
<line x1="488" y1="490.5" x2="502" y2="490.5" stroke="#333" stroke-width="1.1"/>
<text x="523.4" y="465.53" font-size="8.62" text-anchor="middle" fill="#1e1e1e" transform="matrix(1 0 0 1.1 0 -46.25)">p&lt;0.001</text>
<line x1="516.3" y1="469.5" x2="530.5" y2="469.5" stroke="#333" stroke-width="1.1"/>
<text x="551.9" y="594.33" font-size="8.62" text-anchor="middle" fill="#1e1e1e" transform="matrix(1 0 0 1.1 0 -59.13)">N.S.</text>
<line x1="545" y1="597.5" x2="559" y2="597.5" stroke="#333" stroke-width="1.1"/>
<text x="581" y="569.33" font-size="8.62" text-anchor="middle" fill="#1e1e1e" transform="matrix(1 0 0 1.1 0 -56.63)">p&lt;0.05</text>
<line x1="573.8" y1="573" x2="588.3" y2="573" stroke="#333" stroke-width="1.1"/>
<text x="608.8" y="538.53" font-size="8.62" text-anchor="middle" fill="#1e1e1e" transform="matrix(1 0 0 1.1 0 -53.55)">p&lt;0.001</text>
<line x1="602.5" y1="542" x2="616.3" y2="542" stroke="#333" stroke-width="1.1"/>
<text x="638.3" y="583.63" font-size="8.62" text-anchor="middle" fill="#1e1e1e" transform="matrix(1 0 0 1.1 0 -58.06)">N.S.</text>
<line x1="631.3" y1="587.2" x2="644.8" y2="587.2" stroke="#333" stroke-width="1.1"/>
<text x="667" y="538.83" font-size="8.62" text-anchor="middle" fill="#1e1e1e" transform="matrix(1 0 0 1.1 0 -53.58)">p&lt;0.05</text>
<line x1="659.8" y1="542.5" x2="673.5" y2="542.5" stroke="#333" stroke-width="1.1"/>
<text x="695.4" y="557.33" font-size="8.62" text-anchor="middle" fill="#1e1e1e" transform="matrix(1 0 0 1.1 0 -55.43)">p&lt;0.01</text>
<line x1="687.9" y1="561.3" x2="702" y2="561.3" stroke="#333" stroke-width="1.1"/>
</svg></body></html>
